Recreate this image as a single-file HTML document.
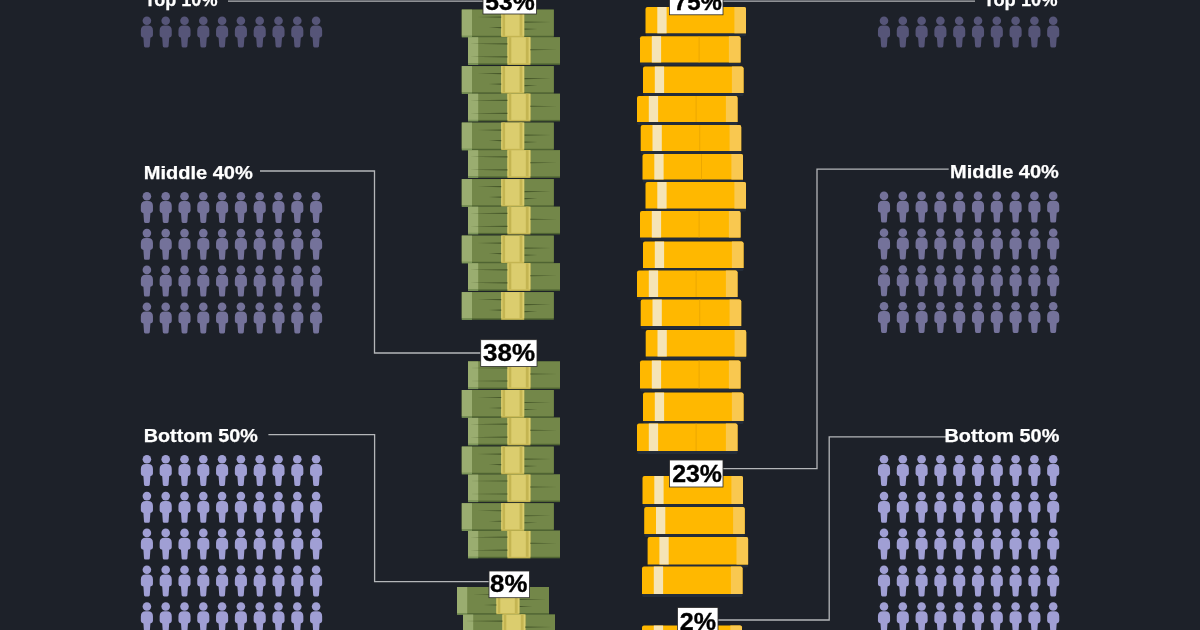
<!DOCTYPE html>
<html><head><meta charset="utf-8"><style>
html,body{margin:0;padding:0;background:#1d2129;}
body{width:1200px;height:630px;overflow:hidden;}
svg{display:block;will-change:transform;}
.lbl{font-family:"Liberation Sans",sans-serif;font-weight:700;font-size:18px;fill:#fff;stroke:#fff;stroke-width:0.25px;}
.pct{font-family:"Liberation Sans",sans-serif;font-weight:700;font-size:24px;fill:#000;stroke:#000;stroke-width:0.35px;}
</style></head><body>
<svg width="1200" height="630" viewBox="0 0 1200 630">
<rect width="1200" height="630" fill="#1d2129"/>
<circle cx="146.90" cy="20.80" r="4.3" fill="#565578"/>
<path d="M140.85,30.60 Q140.85,25.60 145.85,25.60 L147.95,25.60 Q152.95,25.60 152.95,30.60 L152.95,35.30 Q152.95,37.20 150.40,37.70 L149.80,46.10 Q149.80,47.50 148.40,47.50 L145.40,47.50 Q144.00,47.50 144.00,46.10 L143.40,37.70 Q140.85,37.20 140.85,35.30 Z" fill="#565578"/>
<circle cx="165.70" cy="20.80" r="4.3" fill="#565578"/>
<path d="M159.65,30.60 Q159.65,25.60 164.65,25.60 L166.75,25.60 Q171.75,25.60 171.75,30.60 L171.75,35.30 Q171.75,37.20 169.20,37.70 L168.60,46.10 Q168.60,47.50 167.20,47.50 L164.20,47.50 Q162.80,47.50 162.80,46.10 L162.20,37.70 Q159.65,37.20 159.65,35.30 Z" fill="#565578"/>
<circle cx="184.50" cy="20.80" r="4.3" fill="#565578"/>
<path d="M178.45,30.60 Q178.45,25.60 183.45,25.60 L185.55,25.60 Q190.55,25.60 190.55,30.60 L190.55,35.30 Q190.55,37.20 188.00,37.70 L187.40,46.10 Q187.40,47.50 186.00,47.50 L183.00,47.50 Q181.60,47.50 181.60,46.10 L181.00,37.70 Q178.45,37.20 178.45,35.30 Z" fill="#565578"/>
<circle cx="203.30" cy="20.80" r="4.3" fill="#565578"/>
<path d="M197.25,30.60 Q197.25,25.60 202.25,25.60 L204.35,25.60 Q209.35,25.60 209.35,30.60 L209.35,35.30 Q209.35,37.20 206.80,37.70 L206.20,46.10 Q206.20,47.50 204.80,47.50 L201.80,47.50 Q200.40,47.50 200.40,46.10 L199.80,37.70 Q197.25,37.20 197.25,35.30 Z" fill="#565578"/>
<circle cx="222.10" cy="20.80" r="4.3" fill="#565578"/>
<path d="M216.05,30.60 Q216.05,25.60 221.05,25.60 L223.15,25.60 Q228.15,25.60 228.15,30.60 L228.15,35.30 Q228.15,37.20 225.60,37.70 L225.00,46.10 Q225.00,47.50 223.60,47.50 L220.60,47.50 Q219.20,47.50 219.20,46.10 L218.60,37.70 Q216.05,37.20 216.05,35.30 Z" fill="#565578"/>
<circle cx="240.90" cy="20.80" r="4.3" fill="#565578"/>
<path d="M234.85,30.60 Q234.85,25.60 239.85,25.60 L241.95,25.60 Q246.95,25.60 246.95,30.60 L246.95,35.30 Q246.95,37.20 244.40,37.70 L243.80,46.10 Q243.80,47.50 242.40,47.50 L239.40,47.50 Q238.00,47.50 238.00,46.10 L237.40,37.70 Q234.85,37.20 234.85,35.30 Z" fill="#565578"/>
<circle cx="259.70" cy="20.80" r="4.3" fill="#565578"/>
<path d="M253.65,30.60 Q253.65,25.60 258.65,25.60 L260.75,25.60 Q265.75,25.60 265.75,30.60 L265.75,35.30 Q265.75,37.20 263.20,37.70 L262.60,46.10 Q262.60,47.50 261.20,47.50 L258.20,47.50 Q256.80,47.50 256.80,46.10 L256.20,37.70 Q253.65,37.20 253.65,35.30 Z" fill="#565578"/>
<circle cx="278.50" cy="20.80" r="4.3" fill="#565578"/>
<path d="M272.45,30.60 Q272.45,25.60 277.45,25.60 L279.55,25.60 Q284.55,25.60 284.55,30.60 L284.55,35.30 Q284.55,37.20 282.00,37.70 L281.40,46.10 Q281.40,47.50 280.00,47.50 L277.00,47.50 Q275.60,47.50 275.60,46.10 L275.00,37.70 Q272.45,37.20 272.45,35.30 Z" fill="#565578"/>
<circle cx="297.30" cy="20.80" r="4.3" fill="#565578"/>
<path d="M291.25,30.60 Q291.25,25.60 296.25,25.60 L298.35,25.60 Q303.35,25.60 303.35,30.60 L303.35,35.30 Q303.35,37.20 300.80,37.70 L300.20,46.10 Q300.20,47.50 298.80,47.50 L295.80,47.50 Q294.40,47.50 294.40,46.10 L293.80,37.70 Q291.25,37.20 291.25,35.30 Z" fill="#565578"/>
<circle cx="316.10" cy="20.80" r="4.3" fill="#565578"/>
<path d="M310.05,30.60 Q310.05,25.60 315.05,25.60 L317.15,25.60 Q322.15,25.60 322.15,30.60 L322.15,35.30 Q322.15,37.20 319.60,37.70 L319.00,46.10 Q319.00,47.50 317.60,47.50 L314.60,47.50 Q313.20,47.50 313.20,46.10 L312.60,37.70 Q310.05,37.20 310.05,35.30 Z" fill="#565578"/>
<circle cx="146.90" cy="196.30" r="4.3" fill="#74729a"/>
<path d="M140.85,206.10 Q140.85,201.10 145.85,201.10 L147.95,201.10 Q152.95,201.10 152.95,206.10 L152.95,210.80 Q152.95,212.70 150.40,213.20 L149.80,221.60 Q149.80,223.00 148.40,223.00 L145.40,223.00 Q144.00,223.00 144.00,221.60 L143.40,213.20 Q140.85,212.70 140.85,210.80 Z" fill="#74729a"/>
<circle cx="165.70" cy="196.30" r="4.3" fill="#74729a"/>
<path d="M159.65,206.10 Q159.65,201.10 164.65,201.10 L166.75,201.10 Q171.75,201.10 171.75,206.10 L171.75,210.80 Q171.75,212.70 169.20,213.20 L168.60,221.60 Q168.60,223.00 167.20,223.00 L164.20,223.00 Q162.80,223.00 162.80,221.60 L162.20,213.20 Q159.65,212.70 159.65,210.80 Z" fill="#74729a"/>
<circle cx="184.50" cy="196.30" r="4.3" fill="#74729a"/>
<path d="M178.45,206.10 Q178.45,201.10 183.45,201.10 L185.55,201.10 Q190.55,201.10 190.55,206.10 L190.55,210.80 Q190.55,212.70 188.00,213.20 L187.40,221.60 Q187.40,223.00 186.00,223.00 L183.00,223.00 Q181.60,223.00 181.60,221.60 L181.00,213.20 Q178.45,212.70 178.45,210.80 Z" fill="#74729a"/>
<circle cx="203.30" cy="196.30" r="4.3" fill="#74729a"/>
<path d="M197.25,206.10 Q197.25,201.10 202.25,201.10 L204.35,201.10 Q209.35,201.10 209.35,206.10 L209.35,210.80 Q209.35,212.70 206.80,213.20 L206.20,221.60 Q206.20,223.00 204.80,223.00 L201.80,223.00 Q200.40,223.00 200.40,221.60 L199.80,213.20 Q197.25,212.70 197.25,210.80 Z" fill="#74729a"/>
<circle cx="222.10" cy="196.30" r="4.3" fill="#74729a"/>
<path d="M216.05,206.10 Q216.05,201.10 221.05,201.10 L223.15,201.10 Q228.15,201.10 228.15,206.10 L228.15,210.80 Q228.15,212.70 225.60,213.20 L225.00,221.60 Q225.00,223.00 223.60,223.00 L220.60,223.00 Q219.20,223.00 219.20,221.60 L218.60,213.20 Q216.05,212.70 216.05,210.80 Z" fill="#74729a"/>
<circle cx="240.90" cy="196.30" r="4.3" fill="#74729a"/>
<path d="M234.85,206.10 Q234.85,201.10 239.85,201.10 L241.95,201.10 Q246.95,201.10 246.95,206.10 L246.95,210.80 Q246.95,212.70 244.40,213.20 L243.80,221.60 Q243.80,223.00 242.40,223.00 L239.40,223.00 Q238.00,223.00 238.00,221.60 L237.40,213.20 Q234.85,212.70 234.85,210.80 Z" fill="#74729a"/>
<circle cx="259.70" cy="196.30" r="4.3" fill="#74729a"/>
<path d="M253.65,206.10 Q253.65,201.10 258.65,201.10 L260.75,201.10 Q265.75,201.10 265.75,206.10 L265.75,210.80 Q265.75,212.70 263.20,213.20 L262.60,221.60 Q262.60,223.00 261.20,223.00 L258.20,223.00 Q256.80,223.00 256.80,221.60 L256.20,213.20 Q253.65,212.70 253.65,210.80 Z" fill="#74729a"/>
<circle cx="278.50" cy="196.30" r="4.3" fill="#74729a"/>
<path d="M272.45,206.10 Q272.45,201.10 277.45,201.10 L279.55,201.10 Q284.55,201.10 284.55,206.10 L284.55,210.80 Q284.55,212.70 282.00,213.20 L281.40,221.60 Q281.40,223.00 280.00,223.00 L277.00,223.00 Q275.60,223.00 275.60,221.60 L275.00,213.20 Q272.45,212.70 272.45,210.80 Z" fill="#74729a"/>
<circle cx="297.30" cy="196.30" r="4.3" fill="#74729a"/>
<path d="M291.25,206.10 Q291.25,201.10 296.25,201.10 L298.35,201.10 Q303.35,201.10 303.35,206.10 L303.35,210.80 Q303.35,212.70 300.80,213.20 L300.20,221.60 Q300.20,223.00 298.80,223.00 L295.80,223.00 Q294.40,223.00 294.40,221.60 L293.80,213.20 Q291.25,212.70 291.25,210.80 Z" fill="#74729a"/>
<circle cx="316.10" cy="196.30" r="4.3" fill="#74729a"/>
<path d="M310.05,206.10 Q310.05,201.10 315.05,201.10 L317.15,201.10 Q322.15,201.10 322.15,206.10 L322.15,210.80 Q322.15,212.70 319.60,213.20 L319.00,221.60 Q319.00,223.00 317.60,223.00 L314.60,223.00 Q313.20,223.00 313.20,221.60 L312.60,213.20 Q310.05,212.70 310.05,210.80 Z" fill="#74729a"/>
<circle cx="146.90" cy="233.10" r="4.3" fill="#74729a"/>
<path d="M140.85,242.90 Q140.85,237.90 145.85,237.90 L147.95,237.90 Q152.95,237.90 152.95,242.90 L152.95,247.60 Q152.95,249.50 150.40,250.00 L149.80,258.40 Q149.80,259.80 148.40,259.80 L145.40,259.80 Q144.00,259.80 144.00,258.40 L143.40,250.00 Q140.85,249.50 140.85,247.60 Z" fill="#74729a"/>
<circle cx="165.70" cy="233.10" r="4.3" fill="#74729a"/>
<path d="M159.65,242.90 Q159.65,237.90 164.65,237.90 L166.75,237.90 Q171.75,237.90 171.75,242.90 L171.75,247.60 Q171.75,249.50 169.20,250.00 L168.60,258.40 Q168.60,259.80 167.20,259.80 L164.20,259.80 Q162.80,259.80 162.80,258.40 L162.20,250.00 Q159.65,249.50 159.65,247.60 Z" fill="#74729a"/>
<circle cx="184.50" cy="233.10" r="4.3" fill="#74729a"/>
<path d="M178.45,242.90 Q178.45,237.90 183.45,237.90 L185.55,237.90 Q190.55,237.90 190.55,242.90 L190.55,247.60 Q190.55,249.50 188.00,250.00 L187.40,258.40 Q187.40,259.80 186.00,259.80 L183.00,259.80 Q181.60,259.80 181.60,258.40 L181.00,250.00 Q178.45,249.50 178.45,247.60 Z" fill="#74729a"/>
<circle cx="203.30" cy="233.10" r="4.3" fill="#74729a"/>
<path d="M197.25,242.90 Q197.25,237.90 202.25,237.90 L204.35,237.90 Q209.35,237.90 209.35,242.90 L209.35,247.60 Q209.35,249.50 206.80,250.00 L206.20,258.40 Q206.20,259.80 204.80,259.80 L201.80,259.80 Q200.40,259.80 200.40,258.40 L199.80,250.00 Q197.25,249.50 197.25,247.60 Z" fill="#74729a"/>
<circle cx="222.10" cy="233.10" r="4.3" fill="#74729a"/>
<path d="M216.05,242.90 Q216.05,237.90 221.05,237.90 L223.15,237.90 Q228.15,237.90 228.15,242.90 L228.15,247.60 Q228.15,249.50 225.60,250.00 L225.00,258.40 Q225.00,259.80 223.60,259.80 L220.60,259.80 Q219.20,259.80 219.20,258.40 L218.60,250.00 Q216.05,249.50 216.05,247.60 Z" fill="#74729a"/>
<circle cx="240.90" cy="233.10" r="4.3" fill="#74729a"/>
<path d="M234.85,242.90 Q234.85,237.90 239.85,237.90 L241.95,237.90 Q246.95,237.90 246.95,242.90 L246.95,247.60 Q246.95,249.50 244.40,250.00 L243.80,258.40 Q243.80,259.80 242.40,259.80 L239.40,259.80 Q238.00,259.80 238.00,258.40 L237.40,250.00 Q234.85,249.50 234.85,247.60 Z" fill="#74729a"/>
<circle cx="259.70" cy="233.10" r="4.3" fill="#74729a"/>
<path d="M253.65,242.90 Q253.65,237.90 258.65,237.90 L260.75,237.90 Q265.75,237.90 265.75,242.90 L265.75,247.60 Q265.75,249.50 263.20,250.00 L262.60,258.40 Q262.60,259.80 261.20,259.80 L258.20,259.80 Q256.80,259.80 256.80,258.40 L256.20,250.00 Q253.65,249.50 253.65,247.60 Z" fill="#74729a"/>
<circle cx="278.50" cy="233.10" r="4.3" fill="#74729a"/>
<path d="M272.45,242.90 Q272.45,237.90 277.45,237.90 L279.55,237.90 Q284.55,237.90 284.55,242.90 L284.55,247.60 Q284.55,249.50 282.00,250.00 L281.40,258.40 Q281.40,259.80 280.00,259.80 L277.00,259.80 Q275.60,259.80 275.60,258.40 L275.00,250.00 Q272.45,249.50 272.45,247.60 Z" fill="#74729a"/>
<circle cx="297.30" cy="233.10" r="4.3" fill="#74729a"/>
<path d="M291.25,242.90 Q291.25,237.90 296.25,237.90 L298.35,237.90 Q303.35,237.90 303.35,242.90 L303.35,247.60 Q303.35,249.50 300.80,250.00 L300.20,258.40 Q300.20,259.80 298.80,259.80 L295.80,259.80 Q294.40,259.80 294.40,258.40 L293.80,250.00 Q291.25,249.50 291.25,247.60 Z" fill="#74729a"/>
<circle cx="316.10" cy="233.10" r="4.3" fill="#74729a"/>
<path d="M310.05,242.90 Q310.05,237.90 315.05,237.90 L317.15,237.90 Q322.15,237.90 322.15,242.90 L322.15,247.60 Q322.15,249.50 319.60,250.00 L319.00,258.40 Q319.00,259.80 317.60,259.80 L314.60,259.80 Q313.20,259.80 313.20,258.40 L312.60,250.00 Q310.05,249.50 310.05,247.60 Z" fill="#74729a"/>
<circle cx="146.90" cy="269.90" r="4.3" fill="#74729a"/>
<path d="M140.85,279.70 Q140.85,274.70 145.85,274.70 L147.95,274.70 Q152.95,274.70 152.95,279.70 L152.95,284.40 Q152.95,286.30 150.40,286.80 L149.80,295.20 Q149.80,296.60 148.40,296.60 L145.40,296.60 Q144.00,296.60 144.00,295.20 L143.40,286.80 Q140.85,286.30 140.85,284.40 Z" fill="#74729a"/>
<circle cx="165.70" cy="269.90" r="4.3" fill="#74729a"/>
<path d="M159.65,279.70 Q159.65,274.70 164.65,274.70 L166.75,274.70 Q171.75,274.70 171.75,279.70 L171.75,284.40 Q171.75,286.30 169.20,286.80 L168.60,295.20 Q168.60,296.60 167.20,296.60 L164.20,296.60 Q162.80,296.60 162.80,295.20 L162.20,286.80 Q159.65,286.30 159.65,284.40 Z" fill="#74729a"/>
<circle cx="184.50" cy="269.90" r="4.3" fill="#74729a"/>
<path d="M178.45,279.70 Q178.45,274.70 183.45,274.70 L185.55,274.70 Q190.55,274.70 190.55,279.70 L190.55,284.40 Q190.55,286.30 188.00,286.80 L187.40,295.20 Q187.40,296.60 186.00,296.60 L183.00,296.60 Q181.60,296.60 181.60,295.20 L181.00,286.80 Q178.45,286.30 178.45,284.40 Z" fill="#74729a"/>
<circle cx="203.30" cy="269.90" r="4.3" fill="#74729a"/>
<path d="M197.25,279.70 Q197.25,274.70 202.25,274.70 L204.35,274.70 Q209.35,274.70 209.35,279.70 L209.35,284.40 Q209.35,286.30 206.80,286.80 L206.20,295.20 Q206.20,296.60 204.80,296.60 L201.80,296.60 Q200.40,296.60 200.40,295.20 L199.80,286.80 Q197.25,286.30 197.25,284.40 Z" fill="#74729a"/>
<circle cx="222.10" cy="269.90" r="4.3" fill="#74729a"/>
<path d="M216.05,279.70 Q216.05,274.70 221.05,274.70 L223.15,274.70 Q228.15,274.70 228.15,279.70 L228.15,284.40 Q228.15,286.30 225.60,286.80 L225.00,295.20 Q225.00,296.60 223.60,296.60 L220.60,296.60 Q219.20,296.60 219.20,295.20 L218.60,286.80 Q216.05,286.30 216.05,284.40 Z" fill="#74729a"/>
<circle cx="240.90" cy="269.90" r="4.3" fill="#74729a"/>
<path d="M234.85,279.70 Q234.85,274.70 239.85,274.70 L241.95,274.70 Q246.95,274.70 246.95,279.70 L246.95,284.40 Q246.95,286.30 244.40,286.80 L243.80,295.20 Q243.80,296.60 242.40,296.60 L239.40,296.60 Q238.00,296.60 238.00,295.20 L237.40,286.80 Q234.85,286.30 234.85,284.40 Z" fill="#74729a"/>
<circle cx="259.70" cy="269.90" r="4.3" fill="#74729a"/>
<path d="M253.65,279.70 Q253.65,274.70 258.65,274.70 L260.75,274.70 Q265.75,274.70 265.75,279.70 L265.75,284.40 Q265.75,286.30 263.20,286.80 L262.60,295.20 Q262.60,296.60 261.20,296.60 L258.20,296.60 Q256.80,296.60 256.80,295.20 L256.20,286.80 Q253.65,286.30 253.65,284.40 Z" fill="#74729a"/>
<circle cx="278.50" cy="269.90" r="4.3" fill="#74729a"/>
<path d="M272.45,279.70 Q272.45,274.70 277.45,274.70 L279.55,274.70 Q284.55,274.70 284.55,279.70 L284.55,284.40 Q284.55,286.30 282.00,286.80 L281.40,295.20 Q281.40,296.60 280.00,296.60 L277.00,296.60 Q275.60,296.60 275.60,295.20 L275.00,286.80 Q272.45,286.30 272.45,284.40 Z" fill="#74729a"/>
<circle cx="297.30" cy="269.90" r="4.3" fill="#74729a"/>
<path d="M291.25,279.70 Q291.25,274.70 296.25,274.70 L298.35,274.70 Q303.35,274.70 303.35,279.70 L303.35,284.40 Q303.35,286.30 300.80,286.80 L300.20,295.20 Q300.20,296.60 298.80,296.60 L295.80,296.60 Q294.40,296.60 294.40,295.20 L293.80,286.80 Q291.25,286.30 291.25,284.40 Z" fill="#74729a"/>
<circle cx="316.10" cy="269.90" r="4.3" fill="#74729a"/>
<path d="M310.05,279.70 Q310.05,274.70 315.05,274.70 L317.15,274.70 Q322.15,274.70 322.15,279.70 L322.15,284.40 Q322.15,286.30 319.60,286.80 L319.00,295.20 Q319.00,296.60 317.60,296.60 L314.60,296.60 Q313.20,296.60 313.20,295.20 L312.60,286.80 Q310.05,286.30 310.05,284.40 Z" fill="#74729a"/>
<circle cx="146.90" cy="306.70" r="4.3" fill="#74729a"/>
<path d="M140.85,316.50 Q140.85,311.50 145.85,311.50 L147.95,311.50 Q152.95,311.50 152.95,316.50 L152.95,321.20 Q152.95,323.10 150.40,323.60 L149.80,332.00 Q149.80,333.40 148.40,333.40 L145.40,333.40 Q144.00,333.40 144.00,332.00 L143.40,323.60 Q140.85,323.10 140.85,321.20 Z" fill="#74729a"/>
<circle cx="165.70" cy="306.70" r="4.3" fill="#74729a"/>
<path d="M159.65,316.50 Q159.65,311.50 164.65,311.50 L166.75,311.50 Q171.75,311.50 171.75,316.50 L171.75,321.20 Q171.75,323.10 169.20,323.60 L168.60,332.00 Q168.60,333.40 167.20,333.40 L164.20,333.40 Q162.80,333.40 162.80,332.00 L162.20,323.60 Q159.65,323.10 159.65,321.20 Z" fill="#74729a"/>
<circle cx="184.50" cy="306.70" r="4.3" fill="#74729a"/>
<path d="M178.45,316.50 Q178.45,311.50 183.45,311.50 L185.55,311.50 Q190.55,311.50 190.55,316.50 L190.55,321.20 Q190.55,323.10 188.00,323.60 L187.40,332.00 Q187.40,333.40 186.00,333.40 L183.00,333.40 Q181.60,333.40 181.60,332.00 L181.00,323.60 Q178.45,323.10 178.45,321.20 Z" fill="#74729a"/>
<circle cx="203.30" cy="306.70" r="4.3" fill="#74729a"/>
<path d="M197.25,316.50 Q197.25,311.50 202.25,311.50 L204.35,311.50 Q209.35,311.50 209.35,316.50 L209.35,321.20 Q209.35,323.10 206.80,323.60 L206.20,332.00 Q206.20,333.40 204.80,333.40 L201.80,333.40 Q200.40,333.40 200.40,332.00 L199.80,323.60 Q197.25,323.10 197.25,321.20 Z" fill="#74729a"/>
<circle cx="222.10" cy="306.70" r="4.3" fill="#74729a"/>
<path d="M216.05,316.50 Q216.05,311.50 221.05,311.50 L223.15,311.50 Q228.15,311.50 228.15,316.50 L228.15,321.20 Q228.15,323.10 225.60,323.60 L225.00,332.00 Q225.00,333.40 223.60,333.40 L220.60,333.40 Q219.20,333.40 219.20,332.00 L218.60,323.60 Q216.05,323.10 216.05,321.20 Z" fill="#74729a"/>
<circle cx="240.90" cy="306.70" r="4.3" fill="#74729a"/>
<path d="M234.85,316.50 Q234.85,311.50 239.85,311.50 L241.95,311.50 Q246.95,311.50 246.95,316.50 L246.95,321.20 Q246.95,323.10 244.40,323.60 L243.80,332.00 Q243.80,333.40 242.40,333.40 L239.40,333.40 Q238.00,333.40 238.00,332.00 L237.40,323.60 Q234.85,323.10 234.85,321.20 Z" fill="#74729a"/>
<circle cx="259.70" cy="306.70" r="4.3" fill="#74729a"/>
<path d="M253.65,316.50 Q253.65,311.50 258.65,311.50 L260.75,311.50 Q265.75,311.50 265.75,316.50 L265.75,321.20 Q265.75,323.10 263.20,323.60 L262.60,332.00 Q262.60,333.40 261.20,333.40 L258.20,333.40 Q256.80,333.40 256.80,332.00 L256.20,323.60 Q253.65,323.10 253.65,321.20 Z" fill="#74729a"/>
<circle cx="278.50" cy="306.70" r="4.3" fill="#74729a"/>
<path d="M272.45,316.50 Q272.45,311.50 277.45,311.50 L279.55,311.50 Q284.55,311.50 284.55,316.50 L284.55,321.20 Q284.55,323.10 282.00,323.60 L281.40,332.00 Q281.40,333.40 280.00,333.40 L277.00,333.40 Q275.60,333.40 275.60,332.00 L275.00,323.60 Q272.45,323.10 272.45,321.20 Z" fill="#74729a"/>
<circle cx="297.30" cy="306.70" r="4.3" fill="#74729a"/>
<path d="M291.25,316.50 Q291.25,311.50 296.25,311.50 L298.35,311.50 Q303.35,311.50 303.35,316.50 L303.35,321.20 Q303.35,323.10 300.80,323.60 L300.20,332.00 Q300.20,333.40 298.80,333.40 L295.80,333.40 Q294.40,333.40 294.40,332.00 L293.80,323.60 Q291.25,323.10 291.25,321.20 Z" fill="#74729a"/>
<circle cx="316.10" cy="306.70" r="4.3" fill="#74729a"/>
<path d="M310.05,316.50 Q310.05,311.50 315.05,311.50 L317.15,311.50 Q322.15,311.50 322.15,316.50 L322.15,321.20 Q322.15,323.10 319.60,323.60 L319.00,332.00 Q319.00,333.40 317.60,333.40 L314.60,333.40 Q313.20,333.40 313.20,332.00 L312.60,323.60 Q310.05,323.10 310.05,321.20 Z" fill="#74729a"/>
<circle cx="146.90" cy="459.30" r="4.3" fill="#a09fd4"/>
<path d="M140.85,469.10 Q140.85,464.10 145.85,464.10 L147.95,464.10 Q152.95,464.10 152.95,469.10 L152.95,473.80 Q152.95,475.70 150.40,476.20 L149.80,484.60 Q149.80,486.00 148.40,486.00 L145.40,486.00 Q144.00,486.00 144.00,484.60 L143.40,476.20 Q140.85,475.70 140.85,473.80 Z" fill="#a09fd4"/>
<circle cx="165.70" cy="459.30" r="4.3" fill="#a09fd4"/>
<path d="M159.65,469.10 Q159.65,464.10 164.65,464.10 L166.75,464.10 Q171.75,464.10 171.75,469.10 L171.75,473.80 Q171.75,475.70 169.20,476.20 L168.60,484.60 Q168.60,486.00 167.20,486.00 L164.20,486.00 Q162.80,486.00 162.80,484.60 L162.20,476.20 Q159.65,475.70 159.65,473.80 Z" fill="#a09fd4"/>
<circle cx="184.50" cy="459.30" r="4.3" fill="#a09fd4"/>
<path d="M178.45,469.10 Q178.45,464.10 183.45,464.10 L185.55,464.10 Q190.55,464.10 190.55,469.10 L190.55,473.80 Q190.55,475.70 188.00,476.20 L187.40,484.60 Q187.40,486.00 186.00,486.00 L183.00,486.00 Q181.60,486.00 181.60,484.60 L181.00,476.20 Q178.45,475.70 178.45,473.80 Z" fill="#a09fd4"/>
<circle cx="203.30" cy="459.30" r="4.3" fill="#a09fd4"/>
<path d="M197.25,469.10 Q197.25,464.10 202.25,464.10 L204.35,464.10 Q209.35,464.10 209.35,469.10 L209.35,473.80 Q209.35,475.70 206.80,476.20 L206.20,484.60 Q206.20,486.00 204.80,486.00 L201.80,486.00 Q200.40,486.00 200.40,484.60 L199.80,476.20 Q197.25,475.70 197.25,473.80 Z" fill="#a09fd4"/>
<circle cx="222.10" cy="459.30" r="4.3" fill="#a09fd4"/>
<path d="M216.05,469.10 Q216.05,464.10 221.05,464.10 L223.15,464.10 Q228.15,464.10 228.15,469.10 L228.15,473.80 Q228.15,475.70 225.60,476.20 L225.00,484.60 Q225.00,486.00 223.60,486.00 L220.60,486.00 Q219.20,486.00 219.20,484.60 L218.60,476.20 Q216.05,475.70 216.05,473.80 Z" fill="#a09fd4"/>
<circle cx="240.90" cy="459.30" r="4.3" fill="#a09fd4"/>
<path d="M234.85,469.10 Q234.85,464.10 239.85,464.10 L241.95,464.10 Q246.95,464.10 246.95,469.10 L246.95,473.80 Q246.95,475.70 244.40,476.20 L243.80,484.60 Q243.80,486.00 242.40,486.00 L239.40,486.00 Q238.00,486.00 238.00,484.60 L237.40,476.20 Q234.85,475.70 234.85,473.80 Z" fill="#a09fd4"/>
<circle cx="259.70" cy="459.30" r="4.3" fill="#a09fd4"/>
<path d="M253.65,469.10 Q253.65,464.10 258.65,464.10 L260.75,464.10 Q265.75,464.10 265.75,469.10 L265.75,473.80 Q265.75,475.70 263.20,476.20 L262.60,484.60 Q262.60,486.00 261.20,486.00 L258.20,486.00 Q256.80,486.00 256.80,484.60 L256.20,476.20 Q253.65,475.70 253.65,473.80 Z" fill="#a09fd4"/>
<circle cx="278.50" cy="459.30" r="4.3" fill="#a09fd4"/>
<path d="M272.45,469.10 Q272.45,464.10 277.45,464.10 L279.55,464.10 Q284.55,464.10 284.55,469.10 L284.55,473.80 Q284.55,475.70 282.00,476.20 L281.40,484.60 Q281.40,486.00 280.00,486.00 L277.00,486.00 Q275.60,486.00 275.60,484.60 L275.00,476.20 Q272.45,475.70 272.45,473.80 Z" fill="#a09fd4"/>
<circle cx="297.30" cy="459.30" r="4.3" fill="#a09fd4"/>
<path d="M291.25,469.10 Q291.25,464.10 296.25,464.10 L298.35,464.10 Q303.35,464.10 303.35,469.10 L303.35,473.80 Q303.35,475.70 300.80,476.20 L300.20,484.60 Q300.20,486.00 298.80,486.00 L295.80,486.00 Q294.40,486.00 294.40,484.60 L293.80,476.20 Q291.25,475.70 291.25,473.80 Z" fill="#a09fd4"/>
<circle cx="316.10" cy="459.30" r="4.3" fill="#a09fd4"/>
<path d="M310.05,469.10 Q310.05,464.10 315.05,464.10 L317.15,464.10 Q322.15,464.10 322.15,469.10 L322.15,473.80 Q322.15,475.70 319.60,476.20 L319.00,484.60 Q319.00,486.00 317.60,486.00 L314.60,486.00 Q313.20,486.00 313.20,484.60 L312.60,476.20 Q310.05,475.70 310.05,473.80 Z" fill="#a09fd4"/>
<circle cx="146.90" cy="496.10" r="4.3" fill="#a09fd4"/>
<path d="M140.85,505.90 Q140.85,500.90 145.85,500.90 L147.95,500.90 Q152.95,500.90 152.95,505.90 L152.95,510.60 Q152.95,512.50 150.40,513.00 L149.80,521.40 Q149.80,522.80 148.40,522.80 L145.40,522.80 Q144.00,522.80 144.00,521.40 L143.40,513.00 Q140.85,512.50 140.85,510.60 Z" fill="#a09fd4"/>
<circle cx="165.70" cy="496.10" r="4.3" fill="#a09fd4"/>
<path d="M159.65,505.90 Q159.65,500.90 164.65,500.90 L166.75,500.90 Q171.75,500.90 171.75,505.90 L171.75,510.60 Q171.75,512.50 169.20,513.00 L168.60,521.40 Q168.60,522.80 167.20,522.80 L164.20,522.80 Q162.80,522.80 162.80,521.40 L162.20,513.00 Q159.65,512.50 159.65,510.60 Z" fill="#a09fd4"/>
<circle cx="184.50" cy="496.10" r="4.3" fill="#a09fd4"/>
<path d="M178.45,505.90 Q178.45,500.90 183.45,500.90 L185.55,500.90 Q190.55,500.90 190.55,505.90 L190.55,510.60 Q190.55,512.50 188.00,513.00 L187.40,521.40 Q187.40,522.80 186.00,522.80 L183.00,522.80 Q181.60,522.80 181.60,521.40 L181.00,513.00 Q178.45,512.50 178.45,510.60 Z" fill="#a09fd4"/>
<circle cx="203.30" cy="496.10" r="4.3" fill="#a09fd4"/>
<path d="M197.25,505.90 Q197.25,500.90 202.25,500.90 L204.35,500.90 Q209.35,500.90 209.35,505.90 L209.35,510.60 Q209.35,512.50 206.80,513.00 L206.20,521.40 Q206.20,522.80 204.80,522.80 L201.80,522.80 Q200.40,522.80 200.40,521.40 L199.80,513.00 Q197.25,512.50 197.25,510.60 Z" fill="#a09fd4"/>
<circle cx="222.10" cy="496.10" r="4.3" fill="#a09fd4"/>
<path d="M216.05,505.90 Q216.05,500.90 221.05,500.90 L223.15,500.90 Q228.15,500.90 228.15,505.90 L228.15,510.60 Q228.15,512.50 225.60,513.00 L225.00,521.40 Q225.00,522.80 223.60,522.80 L220.60,522.80 Q219.20,522.80 219.20,521.40 L218.60,513.00 Q216.05,512.50 216.05,510.60 Z" fill="#a09fd4"/>
<circle cx="240.90" cy="496.10" r="4.3" fill="#a09fd4"/>
<path d="M234.85,505.90 Q234.85,500.90 239.85,500.90 L241.95,500.90 Q246.95,500.90 246.95,505.90 L246.95,510.60 Q246.95,512.50 244.40,513.00 L243.80,521.40 Q243.80,522.80 242.40,522.80 L239.40,522.80 Q238.00,522.80 238.00,521.40 L237.40,513.00 Q234.85,512.50 234.85,510.60 Z" fill="#a09fd4"/>
<circle cx="259.70" cy="496.10" r="4.3" fill="#a09fd4"/>
<path d="M253.65,505.90 Q253.65,500.90 258.65,500.90 L260.75,500.90 Q265.75,500.90 265.75,505.90 L265.75,510.60 Q265.75,512.50 263.20,513.00 L262.60,521.40 Q262.60,522.80 261.20,522.80 L258.20,522.80 Q256.80,522.80 256.80,521.40 L256.20,513.00 Q253.65,512.50 253.65,510.60 Z" fill="#a09fd4"/>
<circle cx="278.50" cy="496.10" r="4.3" fill="#a09fd4"/>
<path d="M272.45,505.90 Q272.45,500.90 277.45,500.90 L279.55,500.90 Q284.55,500.90 284.55,505.90 L284.55,510.60 Q284.55,512.50 282.00,513.00 L281.40,521.40 Q281.40,522.80 280.00,522.80 L277.00,522.80 Q275.60,522.80 275.60,521.40 L275.00,513.00 Q272.45,512.50 272.45,510.60 Z" fill="#a09fd4"/>
<circle cx="297.30" cy="496.10" r="4.3" fill="#a09fd4"/>
<path d="M291.25,505.90 Q291.25,500.90 296.25,500.90 L298.35,500.90 Q303.35,500.90 303.35,505.90 L303.35,510.60 Q303.35,512.50 300.80,513.00 L300.20,521.40 Q300.20,522.80 298.80,522.80 L295.80,522.80 Q294.40,522.80 294.40,521.40 L293.80,513.00 Q291.25,512.50 291.25,510.60 Z" fill="#a09fd4"/>
<circle cx="316.10" cy="496.10" r="4.3" fill="#a09fd4"/>
<path d="M310.05,505.90 Q310.05,500.90 315.05,500.90 L317.15,500.90 Q322.15,500.90 322.15,505.90 L322.15,510.60 Q322.15,512.50 319.60,513.00 L319.00,521.40 Q319.00,522.80 317.60,522.80 L314.60,522.80 Q313.20,522.80 313.20,521.40 L312.60,513.00 Q310.05,512.50 310.05,510.60 Z" fill="#a09fd4"/>
<circle cx="146.90" cy="532.90" r="4.3" fill="#a09fd4"/>
<path d="M140.85,542.70 Q140.85,537.70 145.85,537.70 L147.95,537.70 Q152.95,537.70 152.95,542.70 L152.95,547.40 Q152.95,549.30 150.40,549.80 L149.80,558.20 Q149.80,559.60 148.40,559.60 L145.40,559.60 Q144.00,559.60 144.00,558.20 L143.40,549.80 Q140.85,549.30 140.85,547.40 Z" fill="#a09fd4"/>
<circle cx="165.70" cy="532.90" r="4.3" fill="#a09fd4"/>
<path d="M159.65,542.70 Q159.65,537.70 164.65,537.70 L166.75,537.70 Q171.75,537.70 171.75,542.70 L171.75,547.40 Q171.75,549.30 169.20,549.80 L168.60,558.20 Q168.60,559.60 167.20,559.60 L164.20,559.60 Q162.80,559.60 162.80,558.20 L162.20,549.80 Q159.65,549.30 159.65,547.40 Z" fill="#a09fd4"/>
<circle cx="184.50" cy="532.90" r="4.3" fill="#a09fd4"/>
<path d="M178.45,542.70 Q178.45,537.70 183.45,537.70 L185.55,537.70 Q190.55,537.70 190.55,542.70 L190.55,547.40 Q190.55,549.30 188.00,549.80 L187.40,558.20 Q187.40,559.60 186.00,559.60 L183.00,559.60 Q181.60,559.60 181.60,558.20 L181.00,549.80 Q178.45,549.30 178.45,547.40 Z" fill="#a09fd4"/>
<circle cx="203.30" cy="532.90" r="4.3" fill="#a09fd4"/>
<path d="M197.25,542.70 Q197.25,537.70 202.25,537.70 L204.35,537.70 Q209.35,537.70 209.35,542.70 L209.35,547.40 Q209.35,549.30 206.80,549.80 L206.20,558.20 Q206.20,559.60 204.80,559.60 L201.80,559.60 Q200.40,559.60 200.40,558.20 L199.80,549.80 Q197.25,549.30 197.25,547.40 Z" fill="#a09fd4"/>
<circle cx="222.10" cy="532.90" r="4.3" fill="#a09fd4"/>
<path d="M216.05,542.70 Q216.05,537.70 221.05,537.70 L223.15,537.70 Q228.15,537.70 228.15,542.70 L228.15,547.40 Q228.15,549.30 225.60,549.80 L225.00,558.20 Q225.00,559.60 223.60,559.60 L220.60,559.60 Q219.20,559.60 219.20,558.20 L218.60,549.80 Q216.05,549.30 216.05,547.40 Z" fill="#a09fd4"/>
<circle cx="240.90" cy="532.90" r="4.3" fill="#a09fd4"/>
<path d="M234.85,542.70 Q234.85,537.70 239.85,537.70 L241.95,537.70 Q246.95,537.70 246.95,542.70 L246.95,547.40 Q246.95,549.30 244.40,549.80 L243.80,558.20 Q243.80,559.60 242.40,559.60 L239.40,559.60 Q238.00,559.60 238.00,558.20 L237.40,549.80 Q234.85,549.30 234.85,547.40 Z" fill="#a09fd4"/>
<circle cx="259.70" cy="532.90" r="4.3" fill="#a09fd4"/>
<path d="M253.65,542.70 Q253.65,537.70 258.65,537.70 L260.75,537.70 Q265.75,537.70 265.75,542.70 L265.75,547.40 Q265.75,549.30 263.20,549.80 L262.60,558.20 Q262.60,559.60 261.20,559.60 L258.20,559.60 Q256.80,559.60 256.80,558.20 L256.20,549.80 Q253.65,549.30 253.65,547.40 Z" fill="#a09fd4"/>
<circle cx="278.50" cy="532.90" r="4.3" fill="#a09fd4"/>
<path d="M272.45,542.70 Q272.45,537.70 277.45,537.70 L279.55,537.70 Q284.55,537.70 284.55,542.70 L284.55,547.40 Q284.55,549.30 282.00,549.80 L281.40,558.20 Q281.40,559.60 280.00,559.60 L277.00,559.60 Q275.60,559.60 275.60,558.20 L275.00,549.80 Q272.45,549.30 272.45,547.40 Z" fill="#a09fd4"/>
<circle cx="297.30" cy="532.90" r="4.3" fill="#a09fd4"/>
<path d="M291.25,542.70 Q291.25,537.70 296.25,537.70 L298.35,537.70 Q303.35,537.70 303.35,542.70 L303.35,547.40 Q303.35,549.30 300.80,549.80 L300.20,558.20 Q300.20,559.60 298.80,559.60 L295.80,559.60 Q294.40,559.60 294.40,558.20 L293.80,549.80 Q291.25,549.30 291.25,547.40 Z" fill="#a09fd4"/>
<circle cx="316.10" cy="532.90" r="4.3" fill="#a09fd4"/>
<path d="M310.05,542.70 Q310.05,537.70 315.05,537.70 L317.15,537.70 Q322.15,537.70 322.15,542.70 L322.15,547.40 Q322.15,549.30 319.60,549.80 L319.00,558.20 Q319.00,559.60 317.60,559.60 L314.60,559.60 Q313.20,559.60 313.20,558.20 L312.60,549.80 Q310.05,549.30 310.05,547.40 Z" fill="#a09fd4"/>
<circle cx="146.90" cy="569.70" r="4.3" fill="#a09fd4"/>
<path d="M140.85,579.50 Q140.85,574.50 145.85,574.50 L147.95,574.50 Q152.95,574.50 152.95,579.50 L152.95,584.20 Q152.95,586.10 150.40,586.60 L149.80,595.00 Q149.80,596.40 148.40,596.40 L145.40,596.40 Q144.00,596.40 144.00,595.00 L143.40,586.60 Q140.85,586.10 140.85,584.20 Z" fill="#a09fd4"/>
<circle cx="165.70" cy="569.70" r="4.3" fill="#a09fd4"/>
<path d="M159.65,579.50 Q159.65,574.50 164.65,574.50 L166.75,574.50 Q171.75,574.50 171.75,579.50 L171.75,584.20 Q171.75,586.10 169.20,586.60 L168.60,595.00 Q168.60,596.40 167.20,596.40 L164.20,596.40 Q162.80,596.40 162.80,595.00 L162.20,586.60 Q159.65,586.10 159.65,584.20 Z" fill="#a09fd4"/>
<circle cx="184.50" cy="569.70" r="4.3" fill="#a09fd4"/>
<path d="M178.45,579.50 Q178.45,574.50 183.45,574.50 L185.55,574.50 Q190.55,574.50 190.55,579.50 L190.55,584.20 Q190.55,586.10 188.00,586.60 L187.40,595.00 Q187.40,596.40 186.00,596.40 L183.00,596.40 Q181.60,596.40 181.60,595.00 L181.00,586.60 Q178.45,586.10 178.45,584.20 Z" fill="#a09fd4"/>
<circle cx="203.30" cy="569.70" r="4.3" fill="#a09fd4"/>
<path d="M197.25,579.50 Q197.25,574.50 202.25,574.50 L204.35,574.50 Q209.35,574.50 209.35,579.50 L209.35,584.20 Q209.35,586.10 206.80,586.60 L206.20,595.00 Q206.20,596.40 204.80,596.40 L201.80,596.40 Q200.40,596.40 200.40,595.00 L199.80,586.60 Q197.25,586.10 197.25,584.20 Z" fill="#a09fd4"/>
<circle cx="222.10" cy="569.70" r="4.3" fill="#a09fd4"/>
<path d="M216.05,579.50 Q216.05,574.50 221.05,574.50 L223.15,574.50 Q228.15,574.50 228.15,579.50 L228.15,584.20 Q228.15,586.10 225.60,586.60 L225.00,595.00 Q225.00,596.40 223.60,596.40 L220.60,596.40 Q219.20,596.40 219.20,595.00 L218.60,586.60 Q216.05,586.10 216.05,584.20 Z" fill="#a09fd4"/>
<circle cx="240.90" cy="569.70" r="4.3" fill="#a09fd4"/>
<path d="M234.85,579.50 Q234.85,574.50 239.85,574.50 L241.95,574.50 Q246.95,574.50 246.95,579.50 L246.95,584.20 Q246.95,586.10 244.40,586.60 L243.80,595.00 Q243.80,596.40 242.40,596.40 L239.40,596.40 Q238.00,596.40 238.00,595.00 L237.40,586.60 Q234.85,586.10 234.85,584.20 Z" fill="#a09fd4"/>
<circle cx="259.70" cy="569.70" r="4.3" fill="#a09fd4"/>
<path d="M253.65,579.50 Q253.65,574.50 258.65,574.50 L260.75,574.50 Q265.75,574.50 265.75,579.50 L265.75,584.20 Q265.75,586.10 263.20,586.60 L262.60,595.00 Q262.60,596.40 261.20,596.40 L258.20,596.40 Q256.80,596.40 256.80,595.00 L256.20,586.60 Q253.65,586.10 253.65,584.20 Z" fill="#a09fd4"/>
<circle cx="278.50" cy="569.70" r="4.3" fill="#a09fd4"/>
<path d="M272.45,579.50 Q272.45,574.50 277.45,574.50 L279.55,574.50 Q284.55,574.50 284.55,579.50 L284.55,584.20 Q284.55,586.10 282.00,586.60 L281.40,595.00 Q281.40,596.40 280.00,596.40 L277.00,596.40 Q275.60,596.40 275.60,595.00 L275.00,586.60 Q272.45,586.10 272.45,584.20 Z" fill="#a09fd4"/>
<circle cx="297.30" cy="569.70" r="4.3" fill="#a09fd4"/>
<path d="M291.25,579.50 Q291.25,574.50 296.25,574.50 L298.35,574.50 Q303.35,574.50 303.35,579.50 L303.35,584.20 Q303.35,586.10 300.80,586.60 L300.20,595.00 Q300.20,596.40 298.80,596.40 L295.80,596.40 Q294.40,596.40 294.40,595.00 L293.80,586.60 Q291.25,586.10 291.25,584.20 Z" fill="#a09fd4"/>
<circle cx="316.10" cy="569.70" r="4.3" fill="#a09fd4"/>
<path d="M310.05,579.50 Q310.05,574.50 315.05,574.50 L317.15,574.50 Q322.15,574.50 322.15,579.50 L322.15,584.20 Q322.15,586.10 319.60,586.60 L319.00,595.00 Q319.00,596.40 317.60,596.40 L314.60,596.40 Q313.20,596.40 313.20,595.00 L312.60,586.60 Q310.05,586.10 310.05,584.20 Z" fill="#a09fd4"/>
<circle cx="146.90" cy="606.50" r="4.3" fill="#a09fd4"/>
<path d="M140.85,616.30 Q140.85,611.30 145.85,611.30 L147.95,611.30 Q152.95,611.30 152.95,616.30 L152.95,621.00 Q152.95,622.90 150.40,623.40 L149.80,631.80 Q149.80,633.20 148.40,633.20 L145.40,633.20 Q144.00,633.20 144.00,631.80 L143.40,623.40 Q140.85,622.90 140.85,621.00 Z" fill="#a09fd4"/>
<circle cx="165.70" cy="606.50" r="4.3" fill="#a09fd4"/>
<path d="M159.65,616.30 Q159.65,611.30 164.65,611.30 L166.75,611.30 Q171.75,611.30 171.75,616.30 L171.75,621.00 Q171.75,622.90 169.20,623.40 L168.60,631.80 Q168.60,633.20 167.20,633.20 L164.20,633.20 Q162.80,633.20 162.80,631.80 L162.20,623.40 Q159.65,622.90 159.65,621.00 Z" fill="#a09fd4"/>
<circle cx="184.50" cy="606.50" r="4.3" fill="#a09fd4"/>
<path d="M178.45,616.30 Q178.45,611.30 183.45,611.30 L185.55,611.30 Q190.55,611.30 190.55,616.30 L190.55,621.00 Q190.55,622.90 188.00,623.40 L187.40,631.80 Q187.40,633.20 186.00,633.20 L183.00,633.20 Q181.60,633.20 181.60,631.80 L181.00,623.40 Q178.45,622.90 178.45,621.00 Z" fill="#a09fd4"/>
<circle cx="203.30" cy="606.50" r="4.3" fill="#a09fd4"/>
<path d="M197.25,616.30 Q197.25,611.30 202.25,611.30 L204.35,611.30 Q209.35,611.30 209.35,616.30 L209.35,621.00 Q209.35,622.90 206.80,623.40 L206.20,631.80 Q206.20,633.20 204.80,633.20 L201.80,633.20 Q200.40,633.20 200.40,631.80 L199.80,623.40 Q197.25,622.90 197.25,621.00 Z" fill="#a09fd4"/>
<circle cx="222.10" cy="606.50" r="4.3" fill="#a09fd4"/>
<path d="M216.05,616.30 Q216.05,611.30 221.05,611.30 L223.15,611.30 Q228.15,611.30 228.15,616.30 L228.15,621.00 Q228.15,622.90 225.60,623.40 L225.00,631.80 Q225.00,633.20 223.60,633.20 L220.60,633.20 Q219.20,633.20 219.20,631.80 L218.60,623.40 Q216.05,622.90 216.05,621.00 Z" fill="#a09fd4"/>
<circle cx="240.90" cy="606.50" r="4.3" fill="#a09fd4"/>
<path d="M234.85,616.30 Q234.85,611.30 239.85,611.30 L241.95,611.30 Q246.95,611.30 246.95,616.30 L246.95,621.00 Q246.95,622.90 244.40,623.40 L243.80,631.80 Q243.80,633.20 242.40,633.20 L239.40,633.20 Q238.00,633.20 238.00,631.80 L237.40,623.40 Q234.85,622.90 234.85,621.00 Z" fill="#a09fd4"/>
<circle cx="259.70" cy="606.50" r="4.3" fill="#a09fd4"/>
<path d="M253.65,616.30 Q253.65,611.30 258.65,611.30 L260.75,611.30 Q265.75,611.30 265.75,616.30 L265.75,621.00 Q265.75,622.90 263.20,623.40 L262.60,631.80 Q262.60,633.20 261.20,633.20 L258.20,633.20 Q256.80,633.20 256.80,631.80 L256.20,623.40 Q253.65,622.90 253.65,621.00 Z" fill="#a09fd4"/>
<circle cx="278.50" cy="606.50" r="4.3" fill="#a09fd4"/>
<path d="M272.45,616.30 Q272.45,611.30 277.45,611.30 L279.55,611.30 Q284.55,611.30 284.55,616.30 L284.55,621.00 Q284.55,622.90 282.00,623.40 L281.40,631.80 Q281.40,633.20 280.00,633.20 L277.00,633.20 Q275.60,633.20 275.60,631.80 L275.00,623.40 Q272.45,622.90 272.45,621.00 Z" fill="#a09fd4"/>
<circle cx="297.30" cy="606.50" r="4.3" fill="#a09fd4"/>
<path d="M291.25,616.30 Q291.25,611.30 296.25,611.30 L298.35,611.30 Q303.35,611.30 303.35,616.30 L303.35,621.00 Q303.35,622.90 300.80,623.40 L300.20,631.80 Q300.20,633.20 298.80,633.20 L295.80,633.20 Q294.40,633.20 294.40,631.80 L293.80,623.40 Q291.25,622.90 291.25,621.00 Z" fill="#a09fd4"/>
<circle cx="316.10" cy="606.50" r="4.3" fill="#a09fd4"/>
<path d="M310.05,616.30 Q310.05,611.30 315.05,611.30 L317.15,611.30 Q322.15,611.30 322.15,616.30 L322.15,621.00 Q322.15,622.90 319.60,623.40 L319.00,631.80 Q319.00,633.20 317.60,633.20 L314.60,633.20 Q313.20,633.20 313.20,631.80 L312.60,623.40 Q310.05,622.90 310.05,621.00 Z" fill="#a09fd4"/>
<circle cx="884.00" cy="20.80" r="4.3" fill="#565578"/>
<path d="M877.95,30.60 Q877.95,25.60 882.95,25.60 L885.05,25.60 Q890.05,25.60 890.05,30.60 L890.05,35.30 Q890.05,37.20 887.50,37.70 L886.90,46.10 Q886.90,47.50 885.50,47.50 L882.50,47.50 Q881.10,47.50 881.10,46.10 L880.50,37.70 Q877.95,37.20 877.95,35.30 Z" fill="#565578"/>
<circle cx="902.80" cy="20.80" r="4.3" fill="#565578"/>
<path d="M896.75,30.60 Q896.75,25.60 901.75,25.60 L903.85,25.60 Q908.85,25.60 908.85,30.60 L908.85,35.30 Q908.85,37.20 906.30,37.70 L905.70,46.10 Q905.70,47.50 904.30,47.50 L901.30,47.50 Q899.90,47.50 899.90,46.10 L899.30,37.70 Q896.75,37.20 896.75,35.30 Z" fill="#565578"/>
<circle cx="921.60" cy="20.80" r="4.3" fill="#565578"/>
<path d="M915.55,30.60 Q915.55,25.60 920.55,25.60 L922.65,25.60 Q927.65,25.60 927.65,30.60 L927.65,35.30 Q927.65,37.20 925.10,37.70 L924.50,46.10 Q924.50,47.50 923.10,47.50 L920.10,47.50 Q918.70,47.50 918.70,46.10 L918.10,37.70 Q915.55,37.20 915.55,35.30 Z" fill="#565578"/>
<circle cx="940.40" cy="20.80" r="4.3" fill="#565578"/>
<path d="M934.35,30.60 Q934.35,25.60 939.35,25.60 L941.45,25.60 Q946.45,25.60 946.45,30.60 L946.45,35.30 Q946.45,37.20 943.90,37.70 L943.30,46.10 Q943.30,47.50 941.90,47.50 L938.90,47.50 Q937.50,47.50 937.50,46.10 L936.90,37.70 Q934.35,37.20 934.35,35.30 Z" fill="#565578"/>
<circle cx="959.20" cy="20.80" r="4.3" fill="#565578"/>
<path d="M953.15,30.60 Q953.15,25.60 958.15,25.60 L960.25,25.60 Q965.25,25.60 965.25,30.60 L965.25,35.30 Q965.25,37.20 962.70,37.70 L962.10,46.10 Q962.10,47.50 960.70,47.50 L957.70,47.50 Q956.30,47.50 956.30,46.10 L955.70,37.70 Q953.15,37.20 953.15,35.30 Z" fill="#565578"/>
<circle cx="978.00" cy="20.80" r="4.3" fill="#565578"/>
<path d="M971.95,30.60 Q971.95,25.60 976.95,25.60 L979.05,25.60 Q984.05,25.60 984.05,30.60 L984.05,35.30 Q984.05,37.20 981.50,37.70 L980.90,46.10 Q980.90,47.50 979.50,47.50 L976.50,47.50 Q975.10,47.50 975.10,46.10 L974.50,37.70 Q971.95,37.20 971.95,35.30 Z" fill="#565578"/>
<circle cx="996.80" cy="20.80" r="4.3" fill="#565578"/>
<path d="M990.75,30.60 Q990.75,25.60 995.75,25.60 L997.85,25.60 Q1002.85,25.60 1002.85,30.60 L1002.85,35.30 Q1002.85,37.20 1000.30,37.70 L999.70,46.10 Q999.70,47.50 998.30,47.50 L995.30,47.50 Q993.90,47.50 993.90,46.10 L993.30,37.70 Q990.75,37.20 990.75,35.30 Z" fill="#565578"/>
<circle cx="1015.60" cy="20.80" r="4.3" fill="#565578"/>
<path d="M1009.55,30.60 Q1009.55,25.60 1014.55,25.60 L1016.65,25.60 Q1021.65,25.60 1021.65,30.60 L1021.65,35.30 Q1021.65,37.20 1019.10,37.70 L1018.50,46.10 Q1018.50,47.50 1017.10,47.50 L1014.10,47.50 Q1012.70,47.50 1012.70,46.10 L1012.10,37.70 Q1009.55,37.20 1009.55,35.30 Z" fill="#565578"/>
<circle cx="1034.40" cy="20.80" r="4.3" fill="#565578"/>
<path d="M1028.35,30.60 Q1028.35,25.60 1033.35,25.60 L1035.45,25.60 Q1040.45,25.60 1040.45,30.60 L1040.45,35.30 Q1040.45,37.20 1037.90,37.70 L1037.30,46.10 Q1037.30,47.50 1035.90,47.50 L1032.90,47.50 Q1031.50,47.50 1031.50,46.10 L1030.90,37.70 Q1028.35,37.20 1028.35,35.30 Z" fill="#565578"/>
<circle cx="1053.20" cy="20.80" r="4.3" fill="#565578"/>
<path d="M1047.15,30.60 Q1047.15,25.60 1052.15,25.60 L1054.25,25.60 Q1059.25,25.60 1059.25,30.60 L1059.25,35.30 Q1059.25,37.20 1056.70,37.70 L1056.10,46.10 Q1056.10,47.50 1054.70,47.50 L1051.70,47.50 Q1050.30,47.50 1050.30,46.10 L1049.70,37.70 Q1047.15,37.20 1047.15,35.30 Z" fill="#565578"/>
<circle cx="884.00" cy="195.90" r="4.3" fill="#74729a"/>
<path d="M877.95,205.70 Q877.95,200.70 882.95,200.70 L885.05,200.70 Q890.05,200.70 890.05,205.70 L890.05,210.40 Q890.05,212.30 887.50,212.80 L886.90,221.20 Q886.90,222.60 885.50,222.60 L882.50,222.60 Q881.10,222.60 881.10,221.20 L880.50,212.80 Q877.95,212.30 877.95,210.40 Z" fill="#74729a"/>
<circle cx="902.80" cy="195.90" r="4.3" fill="#74729a"/>
<path d="M896.75,205.70 Q896.75,200.70 901.75,200.70 L903.85,200.70 Q908.85,200.70 908.85,205.70 L908.85,210.40 Q908.85,212.30 906.30,212.80 L905.70,221.20 Q905.70,222.60 904.30,222.60 L901.30,222.60 Q899.90,222.60 899.90,221.20 L899.30,212.80 Q896.75,212.30 896.75,210.40 Z" fill="#74729a"/>
<circle cx="921.60" cy="195.90" r="4.3" fill="#74729a"/>
<path d="M915.55,205.70 Q915.55,200.70 920.55,200.70 L922.65,200.70 Q927.65,200.70 927.65,205.70 L927.65,210.40 Q927.65,212.30 925.10,212.80 L924.50,221.20 Q924.50,222.60 923.10,222.60 L920.10,222.60 Q918.70,222.60 918.70,221.20 L918.10,212.80 Q915.55,212.30 915.55,210.40 Z" fill="#74729a"/>
<circle cx="940.40" cy="195.90" r="4.3" fill="#74729a"/>
<path d="M934.35,205.70 Q934.35,200.70 939.35,200.70 L941.45,200.70 Q946.45,200.70 946.45,205.70 L946.45,210.40 Q946.45,212.30 943.90,212.80 L943.30,221.20 Q943.30,222.60 941.90,222.60 L938.90,222.60 Q937.50,222.60 937.50,221.20 L936.90,212.80 Q934.35,212.30 934.35,210.40 Z" fill="#74729a"/>
<circle cx="959.20" cy="195.90" r="4.3" fill="#74729a"/>
<path d="M953.15,205.70 Q953.15,200.70 958.15,200.70 L960.25,200.70 Q965.25,200.70 965.25,205.70 L965.25,210.40 Q965.25,212.30 962.70,212.80 L962.10,221.20 Q962.10,222.60 960.70,222.60 L957.70,222.60 Q956.30,222.60 956.30,221.20 L955.70,212.80 Q953.15,212.30 953.15,210.40 Z" fill="#74729a"/>
<circle cx="978.00" cy="195.90" r="4.3" fill="#74729a"/>
<path d="M971.95,205.70 Q971.95,200.70 976.95,200.70 L979.05,200.70 Q984.05,200.70 984.05,205.70 L984.05,210.40 Q984.05,212.30 981.50,212.80 L980.90,221.20 Q980.90,222.60 979.50,222.60 L976.50,222.60 Q975.10,222.60 975.10,221.20 L974.50,212.80 Q971.95,212.30 971.95,210.40 Z" fill="#74729a"/>
<circle cx="996.80" cy="195.90" r="4.3" fill="#74729a"/>
<path d="M990.75,205.70 Q990.75,200.70 995.75,200.70 L997.85,200.70 Q1002.85,200.70 1002.85,205.70 L1002.85,210.40 Q1002.85,212.30 1000.30,212.80 L999.70,221.20 Q999.70,222.60 998.30,222.60 L995.30,222.60 Q993.90,222.60 993.90,221.20 L993.30,212.80 Q990.75,212.30 990.75,210.40 Z" fill="#74729a"/>
<circle cx="1015.60" cy="195.90" r="4.3" fill="#74729a"/>
<path d="M1009.55,205.70 Q1009.55,200.70 1014.55,200.70 L1016.65,200.70 Q1021.65,200.70 1021.65,205.70 L1021.65,210.40 Q1021.65,212.30 1019.10,212.80 L1018.50,221.20 Q1018.50,222.60 1017.10,222.60 L1014.10,222.60 Q1012.70,222.60 1012.70,221.20 L1012.10,212.80 Q1009.55,212.30 1009.55,210.40 Z" fill="#74729a"/>
<circle cx="1034.40" cy="195.90" r="4.3" fill="#74729a"/>
<path d="M1028.35,205.70 Q1028.35,200.70 1033.35,200.70 L1035.45,200.70 Q1040.45,200.70 1040.45,205.70 L1040.45,210.40 Q1040.45,212.30 1037.90,212.80 L1037.30,221.20 Q1037.30,222.60 1035.90,222.60 L1032.90,222.60 Q1031.50,222.60 1031.50,221.20 L1030.90,212.80 Q1028.35,212.30 1028.35,210.40 Z" fill="#74729a"/>
<circle cx="1053.20" cy="195.90" r="4.3" fill="#74729a"/>
<path d="M1047.15,205.70 Q1047.15,200.70 1052.15,200.70 L1054.25,200.70 Q1059.25,200.70 1059.25,205.70 L1059.25,210.40 Q1059.25,212.30 1056.70,212.80 L1056.10,221.20 Q1056.10,222.60 1054.70,222.60 L1051.70,222.60 Q1050.30,222.60 1050.30,221.20 L1049.70,212.80 Q1047.15,212.30 1047.15,210.40 Z" fill="#74729a"/>
<circle cx="884.00" cy="232.70" r="4.3" fill="#74729a"/>
<path d="M877.95,242.50 Q877.95,237.50 882.95,237.50 L885.05,237.50 Q890.05,237.50 890.05,242.50 L890.05,247.20 Q890.05,249.10 887.50,249.60 L886.90,258.00 Q886.90,259.40 885.50,259.40 L882.50,259.40 Q881.10,259.40 881.10,258.00 L880.50,249.60 Q877.95,249.10 877.95,247.20 Z" fill="#74729a"/>
<circle cx="902.80" cy="232.70" r="4.3" fill="#74729a"/>
<path d="M896.75,242.50 Q896.75,237.50 901.75,237.50 L903.85,237.50 Q908.85,237.50 908.85,242.50 L908.85,247.20 Q908.85,249.10 906.30,249.60 L905.70,258.00 Q905.70,259.40 904.30,259.40 L901.30,259.40 Q899.90,259.40 899.90,258.00 L899.30,249.60 Q896.75,249.10 896.75,247.20 Z" fill="#74729a"/>
<circle cx="921.60" cy="232.70" r="4.3" fill="#74729a"/>
<path d="M915.55,242.50 Q915.55,237.50 920.55,237.50 L922.65,237.50 Q927.65,237.50 927.65,242.50 L927.65,247.20 Q927.65,249.10 925.10,249.60 L924.50,258.00 Q924.50,259.40 923.10,259.40 L920.10,259.40 Q918.70,259.40 918.70,258.00 L918.10,249.60 Q915.55,249.10 915.55,247.20 Z" fill="#74729a"/>
<circle cx="940.40" cy="232.70" r="4.3" fill="#74729a"/>
<path d="M934.35,242.50 Q934.35,237.50 939.35,237.50 L941.45,237.50 Q946.45,237.50 946.45,242.50 L946.45,247.20 Q946.45,249.10 943.90,249.60 L943.30,258.00 Q943.30,259.40 941.90,259.40 L938.90,259.40 Q937.50,259.40 937.50,258.00 L936.90,249.60 Q934.35,249.10 934.35,247.20 Z" fill="#74729a"/>
<circle cx="959.20" cy="232.70" r="4.3" fill="#74729a"/>
<path d="M953.15,242.50 Q953.15,237.50 958.15,237.50 L960.25,237.50 Q965.25,237.50 965.25,242.50 L965.25,247.20 Q965.25,249.10 962.70,249.60 L962.10,258.00 Q962.10,259.40 960.70,259.40 L957.70,259.40 Q956.30,259.40 956.30,258.00 L955.70,249.60 Q953.15,249.10 953.15,247.20 Z" fill="#74729a"/>
<circle cx="978.00" cy="232.70" r="4.3" fill="#74729a"/>
<path d="M971.95,242.50 Q971.95,237.50 976.95,237.50 L979.05,237.50 Q984.05,237.50 984.05,242.50 L984.05,247.20 Q984.05,249.10 981.50,249.60 L980.90,258.00 Q980.90,259.40 979.50,259.40 L976.50,259.40 Q975.10,259.40 975.10,258.00 L974.50,249.60 Q971.95,249.10 971.95,247.20 Z" fill="#74729a"/>
<circle cx="996.80" cy="232.70" r="4.3" fill="#74729a"/>
<path d="M990.75,242.50 Q990.75,237.50 995.75,237.50 L997.85,237.50 Q1002.85,237.50 1002.85,242.50 L1002.85,247.20 Q1002.85,249.10 1000.30,249.60 L999.70,258.00 Q999.70,259.40 998.30,259.40 L995.30,259.40 Q993.90,259.40 993.90,258.00 L993.30,249.60 Q990.75,249.10 990.75,247.20 Z" fill="#74729a"/>
<circle cx="1015.60" cy="232.70" r="4.3" fill="#74729a"/>
<path d="M1009.55,242.50 Q1009.55,237.50 1014.55,237.50 L1016.65,237.50 Q1021.65,237.50 1021.65,242.50 L1021.65,247.20 Q1021.65,249.10 1019.10,249.60 L1018.50,258.00 Q1018.50,259.40 1017.10,259.40 L1014.10,259.40 Q1012.70,259.40 1012.70,258.00 L1012.10,249.60 Q1009.55,249.10 1009.55,247.20 Z" fill="#74729a"/>
<circle cx="1034.40" cy="232.70" r="4.3" fill="#74729a"/>
<path d="M1028.35,242.50 Q1028.35,237.50 1033.35,237.50 L1035.45,237.50 Q1040.45,237.50 1040.45,242.50 L1040.45,247.20 Q1040.45,249.10 1037.90,249.60 L1037.30,258.00 Q1037.30,259.40 1035.90,259.40 L1032.90,259.40 Q1031.50,259.40 1031.50,258.00 L1030.90,249.60 Q1028.35,249.10 1028.35,247.20 Z" fill="#74729a"/>
<circle cx="1053.20" cy="232.70" r="4.3" fill="#74729a"/>
<path d="M1047.15,242.50 Q1047.15,237.50 1052.15,237.50 L1054.25,237.50 Q1059.25,237.50 1059.25,242.50 L1059.25,247.20 Q1059.25,249.10 1056.70,249.60 L1056.10,258.00 Q1056.10,259.40 1054.70,259.40 L1051.70,259.40 Q1050.30,259.40 1050.30,258.00 L1049.70,249.60 Q1047.15,249.10 1047.15,247.20 Z" fill="#74729a"/>
<circle cx="884.00" cy="269.50" r="4.3" fill="#74729a"/>
<path d="M877.95,279.30 Q877.95,274.30 882.95,274.30 L885.05,274.30 Q890.05,274.30 890.05,279.30 L890.05,284.00 Q890.05,285.90 887.50,286.40 L886.90,294.80 Q886.90,296.20 885.50,296.20 L882.50,296.20 Q881.10,296.20 881.10,294.80 L880.50,286.40 Q877.95,285.90 877.95,284.00 Z" fill="#74729a"/>
<circle cx="902.80" cy="269.50" r="4.3" fill="#74729a"/>
<path d="M896.75,279.30 Q896.75,274.30 901.75,274.30 L903.85,274.30 Q908.85,274.30 908.85,279.30 L908.85,284.00 Q908.85,285.90 906.30,286.40 L905.70,294.80 Q905.70,296.20 904.30,296.20 L901.30,296.20 Q899.90,296.20 899.90,294.80 L899.30,286.40 Q896.75,285.90 896.75,284.00 Z" fill="#74729a"/>
<circle cx="921.60" cy="269.50" r="4.3" fill="#74729a"/>
<path d="M915.55,279.30 Q915.55,274.30 920.55,274.30 L922.65,274.30 Q927.65,274.30 927.65,279.30 L927.65,284.00 Q927.65,285.90 925.10,286.40 L924.50,294.80 Q924.50,296.20 923.10,296.20 L920.10,296.20 Q918.70,296.20 918.70,294.80 L918.10,286.40 Q915.55,285.90 915.55,284.00 Z" fill="#74729a"/>
<circle cx="940.40" cy="269.50" r="4.3" fill="#74729a"/>
<path d="M934.35,279.30 Q934.35,274.30 939.35,274.30 L941.45,274.30 Q946.45,274.30 946.45,279.30 L946.45,284.00 Q946.45,285.90 943.90,286.40 L943.30,294.80 Q943.30,296.20 941.90,296.20 L938.90,296.20 Q937.50,296.20 937.50,294.80 L936.90,286.40 Q934.35,285.90 934.35,284.00 Z" fill="#74729a"/>
<circle cx="959.20" cy="269.50" r="4.3" fill="#74729a"/>
<path d="M953.15,279.30 Q953.15,274.30 958.15,274.30 L960.25,274.30 Q965.25,274.30 965.25,279.30 L965.25,284.00 Q965.25,285.90 962.70,286.40 L962.10,294.80 Q962.10,296.20 960.70,296.20 L957.70,296.20 Q956.30,296.20 956.30,294.80 L955.70,286.40 Q953.15,285.90 953.15,284.00 Z" fill="#74729a"/>
<circle cx="978.00" cy="269.50" r="4.3" fill="#74729a"/>
<path d="M971.95,279.30 Q971.95,274.30 976.95,274.30 L979.05,274.30 Q984.05,274.30 984.05,279.30 L984.05,284.00 Q984.05,285.90 981.50,286.40 L980.90,294.80 Q980.90,296.20 979.50,296.20 L976.50,296.20 Q975.10,296.20 975.10,294.80 L974.50,286.40 Q971.95,285.90 971.95,284.00 Z" fill="#74729a"/>
<circle cx="996.80" cy="269.50" r="4.3" fill="#74729a"/>
<path d="M990.75,279.30 Q990.75,274.30 995.75,274.30 L997.85,274.30 Q1002.85,274.30 1002.85,279.30 L1002.85,284.00 Q1002.85,285.90 1000.30,286.40 L999.70,294.80 Q999.70,296.20 998.30,296.20 L995.30,296.20 Q993.90,296.20 993.90,294.80 L993.30,286.40 Q990.75,285.90 990.75,284.00 Z" fill="#74729a"/>
<circle cx="1015.60" cy="269.50" r="4.3" fill="#74729a"/>
<path d="M1009.55,279.30 Q1009.55,274.30 1014.55,274.30 L1016.65,274.30 Q1021.65,274.30 1021.65,279.30 L1021.65,284.00 Q1021.65,285.90 1019.10,286.40 L1018.50,294.80 Q1018.50,296.20 1017.10,296.20 L1014.10,296.20 Q1012.70,296.20 1012.70,294.80 L1012.10,286.40 Q1009.55,285.90 1009.55,284.00 Z" fill="#74729a"/>
<circle cx="1034.40" cy="269.50" r="4.3" fill="#74729a"/>
<path d="M1028.35,279.30 Q1028.35,274.30 1033.35,274.30 L1035.45,274.30 Q1040.45,274.30 1040.45,279.30 L1040.45,284.00 Q1040.45,285.90 1037.90,286.40 L1037.30,294.80 Q1037.30,296.20 1035.90,296.20 L1032.90,296.20 Q1031.50,296.20 1031.50,294.80 L1030.90,286.40 Q1028.35,285.90 1028.35,284.00 Z" fill="#74729a"/>
<circle cx="1053.20" cy="269.50" r="4.3" fill="#74729a"/>
<path d="M1047.15,279.30 Q1047.15,274.30 1052.15,274.30 L1054.25,274.30 Q1059.25,274.30 1059.25,279.30 L1059.25,284.00 Q1059.25,285.90 1056.70,286.40 L1056.10,294.80 Q1056.10,296.20 1054.70,296.20 L1051.70,296.20 Q1050.30,296.20 1050.30,294.80 L1049.70,286.40 Q1047.15,285.90 1047.15,284.00 Z" fill="#74729a"/>
<circle cx="884.00" cy="306.30" r="4.3" fill="#74729a"/>
<path d="M877.95,316.10 Q877.95,311.10 882.95,311.10 L885.05,311.10 Q890.05,311.10 890.05,316.10 L890.05,320.80 Q890.05,322.70 887.50,323.20 L886.90,331.60 Q886.90,333.00 885.50,333.00 L882.50,333.00 Q881.10,333.00 881.10,331.60 L880.50,323.20 Q877.95,322.70 877.95,320.80 Z" fill="#74729a"/>
<circle cx="902.80" cy="306.30" r="4.3" fill="#74729a"/>
<path d="M896.75,316.10 Q896.75,311.10 901.75,311.10 L903.85,311.10 Q908.85,311.10 908.85,316.10 L908.85,320.80 Q908.85,322.70 906.30,323.20 L905.70,331.60 Q905.70,333.00 904.30,333.00 L901.30,333.00 Q899.90,333.00 899.90,331.60 L899.30,323.20 Q896.75,322.70 896.75,320.80 Z" fill="#74729a"/>
<circle cx="921.60" cy="306.30" r="4.3" fill="#74729a"/>
<path d="M915.55,316.10 Q915.55,311.10 920.55,311.10 L922.65,311.10 Q927.65,311.10 927.65,316.10 L927.65,320.80 Q927.65,322.70 925.10,323.20 L924.50,331.60 Q924.50,333.00 923.10,333.00 L920.10,333.00 Q918.70,333.00 918.70,331.60 L918.10,323.20 Q915.55,322.70 915.55,320.80 Z" fill="#74729a"/>
<circle cx="940.40" cy="306.30" r="4.3" fill="#74729a"/>
<path d="M934.35,316.10 Q934.35,311.10 939.35,311.10 L941.45,311.10 Q946.45,311.10 946.45,316.10 L946.45,320.80 Q946.45,322.70 943.90,323.20 L943.30,331.60 Q943.30,333.00 941.90,333.00 L938.90,333.00 Q937.50,333.00 937.50,331.60 L936.90,323.20 Q934.35,322.70 934.35,320.80 Z" fill="#74729a"/>
<circle cx="959.20" cy="306.30" r="4.3" fill="#74729a"/>
<path d="M953.15,316.10 Q953.15,311.10 958.15,311.10 L960.25,311.10 Q965.25,311.10 965.25,316.10 L965.25,320.80 Q965.25,322.70 962.70,323.20 L962.10,331.60 Q962.10,333.00 960.70,333.00 L957.70,333.00 Q956.30,333.00 956.30,331.60 L955.70,323.20 Q953.15,322.70 953.15,320.80 Z" fill="#74729a"/>
<circle cx="978.00" cy="306.30" r="4.3" fill="#74729a"/>
<path d="M971.95,316.10 Q971.95,311.10 976.95,311.10 L979.05,311.10 Q984.05,311.10 984.05,316.10 L984.05,320.80 Q984.05,322.70 981.50,323.20 L980.90,331.60 Q980.90,333.00 979.50,333.00 L976.50,333.00 Q975.10,333.00 975.10,331.60 L974.50,323.20 Q971.95,322.70 971.95,320.80 Z" fill="#74729a"/>
<circle cx="996.80" cy="306.30" r="4.3" fill="#74729a"/>
<path d="M990.75,316.10 Q990.75,311.10 995.75,311.10 L997.85,311.10 Q1002.85,311.10 1002.85,316.10 L1002.85,320.80 Q1002.85,322.70 1000.30,323.20 L999.70,331.60 Q999.70,333.00 998.30,333.00 L995.30,333.00 Q993.90,333.00 993.90,331.60 L993.30,323.20 Q990.75,322.70 990.75,320.80 Z" fill="#74729a"/>
<circle cx="1015.60" cy="306.30" r="4.3" fill="#74729a"/>
<path d="M1009.55,316.10 Q1009.55,311.10 1014.55,311.10 L1016.65,311.10 Q1021.65,311.10 1021.65,316.10 L1021.65,320.80 Q1021.65,322.70 1019.10,323.20 L1018.50,331.60 Q1018.50,333.00 1017.10,333.00 L1014.10,333.00 Q1012.70,333.00 1012.70,331.60 L1012.10,323.20 Q1009.55,322.70 1009.55,320.80 Z" fill="#74729a"/>
<circle cx="1034.40" cy="306.30" r="4.3" fill="#74729a"/>
<path d="M1028.35,316.10 Q1028.35,311.10 1033.35,311.10 L1035.45,311.10 Q1040.45,311.10 1040.45,316.10 L1040.45,320.80 Q1040.45,322.70 1037.90,323.20 L1037.30,331.60 Q1037.30,333.00 1035.90,333.00 L1032.90,333.00 Q1031.50,333.00 1031.50,331.60 L1030.90,323.20 Q1028.35,322.70 1028.35,320.80 Z" fill="#74729a"/>
<circle cx="1053.20" cy="306.30" r="4.3" fill="#74729a"/>
<path d="M1047.15,316.10 Q1047.15,311.10 1052.15,311.10 L1054.25,311.10 Q1059.25,311.10 1059.25,316.10 L1059.25,320.80 Q1059.25,322.70 1056.70,323.20 L1056.10,331.60 Q1056.10,333.00 1054.70,333.00 L1051.70,333.00 Q1050.30,333.00 1050.30,331.60 L1049.70,323.20 Q1047.15,322.70 1047.15,320.80 Z" fill="#74729a"/>
<circle cx="884.00" cy="459.30" r="4.3" fill="#a09fd4"/>
<path d="M877.95,469.10 Q877.95,464.10 882.95,464.10 L885.05,464.10 Q890.05,464.10 890.05,469.10 L890.05,473.80 Q890.05,475.70 887.50,476.20 L886.90,484.60 Q886.90,486.00 885.50,486.00 L882.50,486.00 Q881.10,486.00 881.10,484.60 L880.50,476.20 Q877.95,475.70 877.95,473.80 Z" fill="#a09fd4"/>
<circle cx="902.80" cy="459.30" r="4.3" fill="#a09fd4"/>
<path d="M896.75,469.10 Q896.75,464.10 901.75,464.10 L903.85,464.10 Q908.85,464.10 908.85,469.10 L908.85,473.80 Q908.85,475.70 906.30,476.20 L905.70,484.60 Q905.70,486.00 904.30,486.00 L901.30,486.00 Q899.90,486.00 899.90,484.60 L899.30,476.20 Q896.75,475.70 896.75,473.80 Z" fill="#a09fd4"/>
<circle cx="921.60" cy="459.30" r="4.3" fill="#a09fd4"/>
<path d="M915.55,469.10 Q915.55,464.10 920.55,464.10 L922.65,464.10 Q927.65,464.10 927.65,469.10 L927.65,473.80 Q927.65,475.70 925.10,476.20 L924.50,484.60 Q924.50,486.00 923.10,486.00 L920.10,486.00 Q918.70,486.00 918.70,484.60 L918.10,476.20 Q915.55,475.70 915.55,473.80 Z" fill="#a09fd4"/>
<circle cx="940.40" cy="459.30" r="4.3" fill="#a09fd4"/>
<path d="M934.35,469.10 Q934.35,464.10 939.35,464.10 L941.45,464.10 Q946.45,464.10 946.45,469.10 L946.45,473.80 Q946.45,475.70 943.90,476.20 L943.30,484.60 Q943.30,486.00 941.90,486.00 L938.90,486.00 Q937.50,486.00 937.50,484.60 L936.90,476.20 Q934.35,475.70 934.35,473.80 Z" fill="#a09fd4"/>
<circle cx="959.20" cy="459.30" r="4.3" fill="#a09fd4"/>
<path d="M953.15,469.10 Q953.15,464.10 958.15,464.10 L960.25,464.10 Q965.25,464.10 965.25,469.10 L965.25,473.80 Q965.25,475.70 962.70,476.20 L962.10,484.60 Q962.10,486.00 960.70,486.00 L957.70,486.00 Q956.30,486.00 956.30,484.60 L955.70,476.20 Q953.15,475.70 953.15,473.80 Z" fill="#a09fd4"/>
<circle cx="978.00" cy="459.30" r="4.3" fill="#a09fd4"/>
<path d="M971.95,469.10 Q971.95,464.10 976.95,464.10 L979.05,464.10 Q984.05,464.10 984.05,469.10 L984.05,473.80 Q984.05,475.70 981.50,476.20 L980.90,484.60 Q980.90,486.00 979.50,486.00 L976.50,486.00 Q975.10,486.00 975.10,484.60 L974.50,476.20 Q971.95,475.70 971.95,473.80 Z" fill="#a09fd4"/>
<circle cx="996.80" cy="459.30" r="4.3" fill="#a09fd4"/>
<path d="M990.75,469.10 Q990.75,464.10 995.75,464.10 L997.85,464.10 Q1002.85,464.10 1002.85,469.10 L1002.85,473.80 Q1002.85,475.70 1000.30,476.20 L999.70,484.60 Q999.70,486.00 998.30,486.00 L995.30,486.00 Q993.90,486.00 993.90,484.60 L993.30,476.20 Q990.75,475.70 990.75,473.80 Z" fill="#a09fd4"/>
<circle cx="1015.60" cy="459.30" r="4.3" fill="#a09fd4"/>
<path d="M1009.55,469.10 Q1009.55,464.10 1014.55,464.10 L1016.65,464.10 Q1021.65,464.10 1021.65,469.10 L1021.65,473.80 Q1021.65,475.70 1019.10,476.20 L1018.50,484.60 Q1018.50,486.00 1017.10,486.00 L1014.10,486.00 Q1012.70,486.00 1012.70,484.60 L1012.10,476.20 Q1009.55,475.70 1009.55,473.80 Z" fill="#a09fd4"/>
<circle cx="1034.40" cy="459.30" r="4.3" fill="#a09fd4"/>
<path d="M1028.35,469.10 Q1028.35,464.10 1033.35,464.10 L1035.45,464.10 Q1040.45,464.10 1040.45,469.10 L1040.45,473.80 Q1040.45,475.70 1037.90,476.20 L1037.30,484.60 Q1037.30,486.00 1035.90,486.00 L1032.90,486.00 Q1031.50,486.00 1031.50,484.60 L1030.90,476.20 Q1028.35,475.70 1028.35,473.80 Z" fill="#a09fd4"/>
<circle cx="1053.20" cy="459.30" r="4.3" fill="#a09fd4"/>
<path d="M1047.15,469.10 Q1047.15,464.10 1052.15,464.10 L1054.25,464.10 Q1059.25,464.10 1059.25,469.10 L1059.25,473.80 Q1059.25,475.70 1056.70,476.20 L1056.10,484.60 Q1056.10,486.00 1054.70,486.00 L1051.70,486.00 Q1050.30,486.00 1050.30,484.60 L1049.70,476.20 Q1047.15,475.70 1047.15,473.80 Z" fill="#a09fd4"/>
<circle cx="884.00" cy="496.10" r="4.3" fill="#a09fd4"/>
<path d="M877.95,505.90 Q877.95,500.90 882.95,500.90 L885.05,500.90 Q890.05,500.90 890.05,505.90 L890.05,510.60 Q890.05,512.50 887.50,513.00 L886.90,521.40 Q886.90,522.80 885.50,522.80 L882.50,522.80 Q881.10,522.80 881.10,521.40 L880.50,513.00 Q877.95,512.50 877.95,510.60 Z" fill="#a09fd4"/>
<circle cx="902.80" cy="496.10" r="4.3" fill="#a09fd4"/>
<path d="M896.75,505.90 Q896.75,500.90 901.75,500.90 L903.85,500.90 Q908.85,500.90 908.85,505.90 L908.85,510.60 Q908.85,512.50 906.30,513.00 L905.70,521.40 Q905.70,522.80 904.30,522.80 L901.30,522.80 Q899.90,522.80 899.90,521.40 L899.30,513.00 Q896.75,512.50 896.75,510.60 Z" fill="#a09fd4"/>
<circle cx="921.60" cy="496.10" r="4.3" fill="#a09fd4"/>
<path d="M915.55,505.90 Q915.55,500.90 920.55,500.90 L922.65,500.90 Q927.65,500.90 927.65,505.90 L927.65,510.60 Q927.65,512.50 925.10,513.00 L924.50,521.40 Q924.50,522.80 923.10,522.80 L920.10,522.80 Q918.70,522.80 918.70,521.40 L918.10,513.00 Q915.55,512.50 915.55,510.60 Z" fill="#a09fd4"/>
<circle cx="940.40" cy="496.10" r="4.3" fill="#a09fd4"/>
<path d="M934.35,505.90 Q934.35,500.90 939.35,500.90 L941.45,500.90 Q946.45,500.90 946.45,505.90 L946.45,510.60 Q946.45,512.50 943.90,513.00 L943.30,521.40 Q943.30,522.80 941.90,522.80 L938.90,522.80 Q937.50,522.80 937.50,521.40 L936.90,513.00 Q934.35,512.50 934.35,510.60 Z" fill="#a09fd4"/>
<circle cx="959.20" cy="496.10" r="4.3" fill="#a09fd4"/>
<path d="M953.15,505.90 Q953.15,500.90 958.15,500.90 L960.25,500.90 Q965.25,500.90 965.25,505.90 L965.25,510.60 Q965.25,512.50 962.70,513.00 L962.10,521.40 Q962.10,522.80 960.70,522.80 L957.70,522.80 Q956.30,522.80 956.30,521.40 L955.70,513.00 Q953.15,512.50 953.15,510.60 Z" fill="#a09fd4"/>
<circle cx="978.00" cy="496.10" r="4.3" fill="#a09fd4"/>
<path d="M971.95,505.90 Q971.95,500.90 976.95,500.90 L979.05,500.90 Q984.05,500.90 984.05,505.90 L984.05,510.60 Q984.05,512.50 981.50,513.00 L980.90,521.40 Q980.90,522.80 979.50,522.80 L976.50,522.80 Q975.10,522.80 975.10,521.40 L974.50,513.00 Q971.95,512.50 971.95,510.60 Z" fill="#a09fd4"/>
<circle cx="996.80" cy="496.10" r="4.3" fill="#a09fd4"/>
<path d="M990.75,505.90 Q990.75,500.90 995.75,500.90 L997.85,500.90 Q1002.85,500.90 1002.85,505.90 L1002.85,510.60 Q1002.85,512.50 1000.30,513.00 L999.70,521.40 Q999.70,522.80 998.30,522.80 L995.30,522.80 Q993.90,522.80 993.90,521.40 L993.30,513.00 Q990.75,512.50 990.75,510.60 Z" fill="#a09fd4"/>
<circle cx="1015.60" cy="496.10" r="4.3" fill="#a09fd4"/>
<path d="M1009.55,505.90 Q1009.55,500.90 1014.55,500.90 L1016.65,500.90 Q1021.65,500.90 1021.65,505.90 L1021.65,510.60 Q1021.65,512.50 1019.10,513.00 L1018.50,521.40 Q1018.50,522.80 1017.10,522.80 L1014.10,522.80 Q1012.70,522.80 1012.70,521.40 L1012.10,513.00 Q1009.55,512.50 1009.55,510.60 Z" fill="#a09fd4"/>
<circle cx="1034.40" cy="496.10" r="4.3" fill="#a09fd4"/>
<path d="M1028.35,505.90 Q1028.35,500.90 1033.35,500.90 L1035.45,500.90 Q1040.45,500.90 1040.45,505.90 L1040.45,510.60 Q1040.45,512.50 1037.90,513.00 L1037.30,521.40 Q1037.30,522.80 1035.90,522.80 L1032.90,522.80 Q1031.50,522.80 1031.50,521.40 L1030.90,513.00 Q1028.35,512.50 1028.35,510.60 Z" fill="#a09fd4"/>
<circle cx="1053.20" cy="496.10" r="4.3" fill="#a09fd4"/>
<path d="M1047.15,505.90 Q1047.15,500.90 1052.15,500.90 L1054.25,500.90 Q1059.25,500.90 1059.25,505.90 L1059.25,510.60 Q1059.25,512.50 1056.70,513.00 L1056.10,521.40 Q1056.10,522.80 1054.70,522.80 L1051.70,522.80 Q1050.30,522.80 1050.30,521.40 L1049.70,513.00 Q1047.15,512.50 1047.15,510.60 Z" fill="#a09fd4"/>
<circle cx="884.00" cy="532.90" r="4.3" fill="#a09fd4"/>
<path d="M877.95,542.70 Q877.95,537.70 882.95,537.70 L885.05,537.70 Q890.05,537.70 890.05,542.70 L890.05,547.40 Q890.05,549.30 887.50,549.80 L886.90,558.20 Q886.90,559.60 885.50,559.60 L882.50,559.60 Q881.10,559.60 881.10,558.20 L880.50,549.80 Q877.95,549.30 877.95,547.40 Z" fill="#a09fd4"/>
<circle cx="902.80" cy="532.90" r="4.3" fill="#a09fd4"/>
<path d="M896.75,542.70 Q896.75,537.70 901.75,537.70 L903.85,537.70 Q908.85,537.70 908.85,542.70 L908.85,547.40 Q908.85,549.30 906.30,549.80 L905.70,558.20 Q905.70,559.60 904.30,559.60 L901.30,559.60 Q899.90,559.60 899.90,558.20 L899.30,549.80 Q896.75,549.30 896.75,547.40 Z" fill="#a09fd4"/>
<circle cx="921.60" cy="532.90" r="4.3" fill="#a09fd4"/>
<path d="M915.55,542.70 Q915.55,537.70 920.55,537.70 L922.65,537.70 Q927.65,537.70 927.65,542.70 L927.65,547.40 Q927.65,549.30 925.10,549.80 L924.50,558.20 Q924.50,559.60 923.10,559.60 L920.10,559.60 Q918.70,559.60 918.70,558.20 L918.10,549.80 Q915.55,549.30 915.55,547.40 Z" fill="#a09fd4"/>
<circle cx="940.40" cy="532.90" r="4.3" fill="#a09fd4"/>
<path d="M934.35,542.70 Q934.35,537.70 939.35,537.70 L941.45,537.70 Q946.45,537.70 946.45,542.70 L946.45,547.40 Q946.45,549.30 943.90,549.80 L943.30,558.20 Q943.30,559.60 941.90,559.60 L938.90,559.60 Q937.50,559.60 937.50,558.20 L936.90,549.80 Q934.35,549.30 934.35,547.40 Z" fill="#a09fd4"/>
<circle cx="959.20" cy="532.90" r="4.3" fill="#a09fd4"/>
<path d="M953.15,542.70 Q953.15,537.70 958.15,537.70 L960.25,537.70 Q965.25,537.70 965.25,542.70 L965.25,547.40 Q965.25,549.30 962.70,549.80 L962.10,558.20 Q962.10,559.60 960.70,559.60 L957.70,559.60 Q956.30,559.60 956.30,558.20 L955.70,549.80 Q953.15,549.30 953.15,547.40 Z" fill="#a09fd4"/>
<circle cx="978.00" cy="532.90" r="4.3" fill="#a09fd4"/>
<path d="M971.95,542.70 Q971.95,537.70 976.95,537.70 L979.05,537.70 Q984.05,537.70 984.05,542.70 L984.05,547.40 Q984.05,549.30 981.50,549.80 L980.90,558.20 Q980.90,559.60 979.50,559.60 L976.50,559.60 Q975.10,559.60 975.10,558.20 L974.50,549.80 Q971.95,549.30 971.95,547.40 Z" fill="#a09fd4"/>
<circle cx="996.80" cy="532.90" r="4.3" fill="#a09fd4"/>
<path d="M990.75,542.70 Q990.75,537.70 995.75,537.70 L997.85,537.70 Q1002.85,537.70 1002.85,542.70 L1002.85,547.40 Q1002.85,549.30 1000.30,549.80 L999.70,558.20 Q999.70,559.60 998.30,559.60 L995.30,559.60 Q993.90,559.60 993.90,558.20 L993.30,549.80 Q990.75,549.30 990.75,547.40 Z" fill="#a09fd4"/>
<circle cx="1015.60" cy="532.90" r="4.3" fill="#a09fd4"/>
<path d="M1009.55,542.70 Q1009.55,537.70 1014.55,537.70 L1016.65,537.70 Q1021.65,537.70 1021.65,542.70 L1021.65,547.40 Q1021.65,549.30 1019.10,549.80 L1018.50,558.20 Q1018.50,559.60 1017.10,559.60 L1014.10,559.60 Q1012.70,559.60 1012.70,558.20 L1012.10,549.80 Q1009.55,549.30 1009.55,547.40 Z" fill="#a09fd4"/>
<circle cx="1034.40" cy="532.90" r="4.3" fill="#a09fd4"/>
<path d="M1028.35,542.70 Q1028.35,537.70 1033.35,537.70 L1035.45,537.70 Q1040.45,537.70 1040.45,542.70 L1040.45,547.40 Q1040.45,549.30 1037.90,549.80 L1037.30,558.20 Q1037.30,559.60 1035.90,559.60 L1032.90,559.60 Q1031.50,559.60 1031.50,558.20 L1030.90,549.80 Q1028.35,549.30 1028.35,547.40 Z" fill="#a09fd4"/>
<circle cx="1053.20" cy="532.90" r="4.3" fill="#a09fd4"/>
<path d="M1047.15,542.70 Q1047.15,537.70 1052.15,537.70 L1054.25,537.70 Q1059.25,537.70 1059.25,542.70 L1059.25,547.40 Q1059.25,549.30 1056.70,549.80 L1056.10,558.20 Q1056.10,559.60 1054.70,559.60 L1051.70,559.60 Q1050.30,559.60 1050.30,558.20 L1049.70,549.80 Q1047.15,549.30 1047.15,547.40 Z" fill="#a09fd4"/>
<circle cx="884.00" cy="569.70" r="4.3" fill="#a09fd4"/>
<path d="M877.95,579.50 Q877.95,574.50 882.95,574.50 L885.05,574.50 Q890.05,574.50 890.05,579.50 L890.05,584.20 Q890.05,586.10 887.50,586.60 L886.90,595.00 Q886.90,596.40 885.50,596.40 L882.50,596.40 Q881.10,596.40 881.10,595.00 L880.50,586.60 Q877.95,586.10 877.95,584.20 Z" fill="#a09fd4"/>
<circle cx="902.80" cy="569.70" r="4.3" fill="#a09fd4"/>
<path d="M896.75,579.50 Q896.75,574.50 901.75,574.50 L903.85,574.50 Q908.85,574.50 908.85,579.50 L908.85,584.20 Q908.85,586.10 906.30,586.60 L905.70,595.00 Q905.70,596.40 904.30,596.40 L901.30,596.40 Q899.90,596.40 899.90,595.00 L899.30,586.60 Q896.75,586.10 896.75,584.20 Z" fill="#a09fd4"/>
<circle cx="921.60" cy="569.70" r="4.3" fill="#a09fd4"/>
<path d="M915.55,579.50 Q915.55,574.50 920.55,574.50 L922.65,574.50 Q927.65,574.50 927.65,579.50 L927.65,584.20 Q927.65,586.10 925.10,586.60 L924.50,595.00 Q924.50,596.40 923.10,596.40 L920.10,596.40 Q918.70,596.40 918.70,595.00 L918.10,586.60 Q915.55,586.10 915.55,584.20 Z" fill="#a09fd4"/>
<circle cx="940.40" cy="569.70" r="4.3" fill="#a09fd4"/>
<path d="M934.35,579.50 Q934.35,574.50 939.35,574.50 L941.45,574.50 Q946.45,574.50 946.45,579.50 L946.45,584.20 Q946.45,586.10 943.90,586.60 L943.30,595.00 Q943.30,596.40 941.90,596.40 L938.90,596.40 Q937.50,596.40 937.50,595.00 L936.90,586.60 Q934.35,586.10 934.35,584.20 Z" fill="#a09fd4"/>
<circle cx="959.20" cy="569.70" r="4.3" fill="#a09fd4"/>
<path d="M953.15,579.50 Q953.15,574.50 958.15,574.50 L960.25,574.50 Q965.25,574.50 965.25,579.50 L965.25,584.20 Q965.25,586.10 962.70,586.60 L962.10,595.00 Q962.10,596.40 960.70,596.40 L957.70,596.40 Q956.30,596.40 956.30,595.00 L955.70,586.60 Q953.15,586.10 953.15,584.20 Z" fill="#a09fd4"/>
<circle cx="978.00" cy="569.70" r="4.3" fill="#a09fd4"/>
<path d="M971.95,579.50 Q971.95,574.50 976.95,574.50 L979.05,574.50 Q984.05,574.50 984.05,579.50 L984.05,584.20 Q984.05,586.10 981.50,586.60 L980.90,595.00 Q980.90,596.40 979.50,596.40 L976.50,596.40 Q975.10,596.40 975.10,595.00 L974.50,586.60 Q971.95,586.10 971.95,584.20 Z" fill="#a09fd4"/>
<circle cx="996.80" cy="569.70" r="4.3" fill="#a09fd4"/>
<path d="M990.75,579.50 Q990.75,574.50 995.75,574.50 L997.85,574.50 Q1002.85,574.50 1002.85,579.50 L1002.85,584.20 Q1002.85,586.10 1000.30,586.60 L999.70,595.00 Q999.70,596.40 998.30,596.40 L995.30,596.40 Q993.90,596.40 993.90,595.00 L993.30,586.60 Q990.75,586.10 990.75,584.20 Z" fill="#a09fd4"/>
<circle cx="1015.60" cy="569.70" r="4.3" fill="#a09fd4"/>
<path d="M1009.55,579.50 Q1009.55,574.50 1014.55,574.50 L1016.65,574.50 Q1021.65,574.50 1021.65,579.50 L1021.65,584.20 Q1021.65,586.10 1019.10,586.60 L1018.50,595.00 Q1018.50,596.40 1017.10,596.40 L1014.10,596.40 Q1012.70,596.40 1012.70,595.00 L1012.10,586.60 Q1009.55,586.10 1009.55,584.20 Z" fill="#a09fd4"/>
<circle cx="1034.40" cy="569.70" r="4.3" fill="#a09fd4"/>
<path d="M1028.35,579.50 Q1028.35,574.50 1033.35,574.50 L1035.45,574.50 Q1040.45,574.50 1040.45,579.50 L1040.45,584.20 Q1040.45,586.10 1037.90,586.60 L1037.30,595.00 Q1037.30,596.40 1035.90,596.40 L1032.90,596.40 Q1031.50,596.40 1031.50,595.00 L1030.90,586.60 Q1028.35,586.10 1028.35,584.20 Z" fill="#a09fd4"/>
<circle cx="1053.20" cy="569.70" r="4.3" fill="#a09fd4"/>
<path d="M1047.15,579.50 Q1047.15,574.50 1052.15,574.50 L1054.25,574.50 Q1059.25,574.50 1059.25,579.50 L1059.25,584.20 Q1059.25,586.10 1056.70,586.60 L1056.10,595.00 Q1056.10,596.40 1054.70,596.40 L1051.70,596.40 Q1050.30,596.40 1050.30,595.00 L1049.70,586.60 Q1047.15,586.10 1047.15,584.20 Z" fill="#a09fd4"/>
<circle cx="884.00" cy="606.50" r="4.3" fill="#a09fd4"/>
<path d="M877.95,616.30 Q877.95,611.30 882.95,611.30 L885.05,611.30 Q890.05,611.30 890.05,616.30 L890.05,621.00 Q890.05,622.90 887.50,623.40 L886.90,631.80 Q886.90,633.20 885.50,633.20 L882.50,633.20 Q881.10,633.20 881.10,631.80 L880.50,623.40 Q877.95,622.90 877.95,621.00 Z" fill="#a09fd4"/>
<circle cx="902.80" cy="606.50" r="4.3" fill="#a09fd4"/>
<path d="M896.75,616.30 Q896.75,611.30 901.75,611.30 L903.85,611.30 Q908.85,611.30 908.85,616.30 L908.85,621.00 Q908.85,622.90 906.30,623.40 L905.70,631.80 Q905.70,633.20 904.30,633.20 L901.30,633.20 Q899.90,633.20 899.90,631.80 L899.30,623.40 Q896.75,622.90 896.75,621.00 Z" fill="#a09fd4"/>
<circle cx="921.60" cy="606.50" r="4.3" fill="#a09fd4"/>
<path d="M915.55,616.30 Q915.55,611.30 920.55,611.30 L922.65,611.30 Q927.65,611.30 927.65,616.30 L927.65,621.00 Q927.65,622.90 925.10,623.40 L924.50,631.80 Q924.50,633.20 923.10,633.20 L920.10,633.20 Q918.70,633.20 918.70,631.80 L918.10,623.40 Q915.55,622.90 915.55,621.00 Z" fill="#a09fd4"/>
<circle cx="940.40" cy="606.50" r="4.3" fill="#a09fd4"/>
<path d="M934.35,616.30 Q934.35,611.30 939.35,611.30 L941.45,611.30 Q946.45,611.30 946.45,616.30 L946.45,621.00 Q946.45,622.90 943.90,623.40 L943.30,631.80 Q943.30,633.20 941.90,633.20 L938.90,633.20 Q937.50,633.20 937.50,631.80 L936.90,623.40 Q934.35,622.90 934.35,621.00 Z" fill="#a09fd4"/>
<circle cx="959.20" cy="606.50" r="4.3" fill="#a09fd4"/>
<path d="M953.15,616.30 Q953.15,611.30 958.15,611.30 L960.25,611.30 Q965.25,611.30 965.25,616.30 L965.25,621.00 Q965.25,622.90 962.70,623.40 L962.10,631.80 Q962.10,633.20 960.70,633.20 L957.70,633.20 Q956.30,633.20 956.30,631.80 L955.70,623.40 Q953.15,622.90 953.15,621.00 Z" fill="#a09fd4"/>
<circle cx="978.00" cy="606.50" r="4.3" fill="#a09fd4"/>
<path d="M971.95,616.30 Q971.95,611.30 976.95,611.30 L979.05,611.30 Q984.05,611.30 984.05,616.30 L984.05,621.00 Q984.05,622.90 981.50,623.40 L980.90,631.80 Q980.90,633.20 979.50,633.20 L976.50,633.20 Q975.10,633.20 975.10,631.80 L974.50,623.40 Q971.95,622.90 971.95,621.00 Z" fill="#a09fd4"/>
<circle cx="996.80" cy="606.50" r="4.3" fill="#a09fd4"/>
<path d="M990.75,616.30 Q990.75,611.30 995.75,611.30 L997.85,611.30 Q1002.85,611.30 1002.85,616.30 L1002.85,621.00 Q1002.85,622.90 1000.30,623.40 L999.70,631.80 Q999.70,633.20 998.30,633.20 L995.30,633.20 Q993.90,633.20 993.90,631.80 L993.30,623.40 Q990.75,622.90 990.75,621.00 Z" fill="#a09fd4"/>
<circle cx="1015.60" cy="606.50" r="4.3" fill="#a09fd4"/>
<path d="M1009.55,616.30 Q1009.55,611.30 1014.55,611.30 L1016.65,611.30 Q1021.65,611.30 1021.65,616.30 L1021.65,621.00 Q1021.65,622.90 1019.10,623.40 L1018.50,631.80 Q1018.50,633.20 1017.10,633.20 L1014.10,633.20 Q1012.70,633.20 1012.70,631.80 L1012.10,623.40 Q1009.55,622.90 1009.55,621.00 Z" fill="#a09fd4"/>
<circle cx="1034.40" cy="606.50" r="4.3" fill="#a09fd4"/>
<path d="M1028.35,616.30 Q1028.35,611.30 1033.35,611.30 L1035.45,611.30 Q1040.45,611.30 1040.45,616.30 L1040.45,621.00 Q1040.45,622.90 1037.90,623.40 L1037.30,631.80 Q1037.30,633.20 1035.90,633.20 L1032.90,633.20 Q1031.50,633.20 1031.50,631.80 L1030.90,623.40 Q1028.35,622.90 1028.35,621.00 Z" fill="#a09fd4"/>
<circle cx="1053.20" cy="606.50" r="4.3" fill="#a09fd4"/>
<path d="M1047.15,616.30 Q1047.15,611.30 1052.15,611.30 L1054.25,611.30 Q1059.25,611.30 1059.25,616.30 L1059.25,621.00 Q1059.25,622.90 1056.70,623.40 L1056.10,631.80 Q1056.10,633.20 1054.70,633.20 L1051.70,633.20 Q1050.30,633.20 1050.30,631.80 L1049.70,623.40 Q1047.15,622.90 1047.15,621.00 Z" fill="#a09fd4"/>
<rect x="461.80" y="9.60" width="92.00" height="27.70" fill="#4f6432"/>
<rect x="461.80" y="9.60" width="92.00" height="26.20" fill="#738749"/>
<rect x="461.80" y="9.60" width="10.2" height="26.20" fill="#9aad70"/>
<rect x="461.80" y="35.80" width="10.2" height="1.5" fill="#7c965a"/>
<rect x="501.20" y="9.60" width="23" height="27.70" fill="#c4b552"/>
<rect x="501.20" y="9.60" width="23" height="26.20" fill="#dbcd6e"/>
<rect x="502.50" y="9.60" width="2.6" height="26.20" fill="#c4b552"/>
<rect x="519.60" y="9.60" width="2.8" height="26.20" fill="#c4b552"/>
<path d="M477.80,17.10 L501.20,16.55 L501.20,17.65 Z" fill="#46572a"/>
<path d="M488.80,27.60 L501.20,27.05 L501.20,28.15 Z" fill="#46572a"/>
<path d="M550.80,22.10 L524.70,21.55 L524.70,22.65 Z" fill="#46572a"/>
<path d="M537.20,29.10 L524.70,28.55 L524.70,29.65 Z" fill="#46572a"/>
<rect x="468.00" y="37.20" width="92.00" height="27.70" fill="#4f6432"/>
<rect x="468.00" y="37.20" width="92.00" height="26.20" fill="#738749"/>
<rect x="468.00" y="37.20" width="10.2" height="26.20" fill="#9aad70"/>
<rect x="468.00" y="63.40" width="10.2" height="1.5" fill="#7c965a"/>
<rect x="507.40" y="37.20" width="23" height="27.70" fill="#c4b552"/>
<rect x="507.40" y="37.20" width="23" height="26.20" fill="#dbcd6e"/>
<rect x="508.70" y="37.20" width="2.6" height="26.20" fill="#c4b552"/>
<rect x="525.80" y="37.20" width="2.8" height="26.20" fill="#c4b552"/>
<path d="M470.00,43.80 L507.40,43.20 L507.40,44.40 Z" fill="#46572a"/>
<path d="M470.00,56.80 L507.40,56.20 L507.40,57.40 Z" fill="#46572a"/>
<path d="M557.00,49.80 L530.40,49.25 L530.40,50.35 Z" fill="#46572a"/>
<rect x="461.80" y="66.10" width="92.00" height="27.70" fill="#4f6432"/>
<rect x="461.80" y="66.10" width="92.00" height="26.20" fill="#738749"/>
<rect x="461.80" y="66.10" width="10.2" height="26.20" fill="#9aad70"/>
<rect x="461.80" y="92.30" width="10.2" height="1.5" fill="#7c965a"/>
<rect x="501.20" y="66.10" width="23" height="27.70" fill="#c4b552"/>
<rect x="501.20" y="66.10" width="23" height="26.20" fill="#dbcd6e"/>
<rect x="502.50" y="66.10" width="2.6" height="26.20" fill="#c4b552"/>
<rect x="519.60" y="66.10" width="2.8" height="26.20" fill="#c4b552"/>
<path d="M477.80,73.60 L501.20,73.05 L501.20,74.15 Z" fill="#46572a"/>
<path d="M488.80,84.10 L501.20,83.55 L501.20,84.65 Z" fill="#46572a"/>
<path d="M550.80,78.60 L524.70,78.05 L524.70,79.15 Z" fill="#46572a"/>
<path d="M537.20,85.60 L524.70,85.05 L524.70,86.15 Z" fill="#46572a"/>
<rect x="468.00" y="93.70" width="92.00" height="27.70" fill="#4f6432"/>
<rect x="468.00" y="93.70" width="92.00" height="26.20" fill="#738749"/>
<rect x="468.00" y="93.70" width="10.2" height="26.20" fill="#9aad70"/>
<rect x="468.00" y="119.90" width="10.2" height="1.5" fill="#7c965a"/>
<rect x="507.40" y="93.70" width="23" height="27.70" fill="#c4b552"/>
<rect x="507.40" y="93.70" width="23" height="26.20" fill="#dbcd6e"/>
<rect x="508.70" y="93.70" width="2.6" height="26.20" fill="#c4b552"/>
<rect x="525.80" y="93.70" width="2.8" height="26.20" fill="#c4b552"/>
<path d="M470.00,100.30 L507.40,99.70 L507.40,100.90 Z" fill="#46572a"/>
<path d="M470.00,113.30 L507.40,112.70 L507.40,113.90 Z" fill="#46572a"/>
<path d="M557.00,106.30 L530.40,105.75 L530.40,106.85 Z" fill="#46572a"/>
<rect x="461.80" y="122.60" width="92.00" height="27.70" fill="#4f6432"/>
<rect x="461.80" y="122.60" width="92.00" height="26.20" fill="#738749"/>
<rect x="461.80" y="122.60" width="10.2" height="26.20" fill="#9aad70"/>
<rect x="461.80" y="148.80" width="10.2" height="1.5" fill="#7c965a"/>
<rect x="501.20" y="122.60" width="23" height="27.70" fill="#c4b552"/>
<rect x="501.20" y="122.60" width="23" height="26.20" fill="#dbcd6e"/>
<rect x="502.50" y="122.60" width="2.6" height="26.20" fill="#c4b552"/>
<rect x="519.60" y="122.60" width="2.8" height="26.20" fill="#c4b552"/>
<path d="M477.80,130.10 L501.20,129.55 L501.20,130.65 Z" fill="#46572a"/>
<path d="M488.80,140.60 L501.20,140.05 L501.20,141.15 Z" fill="#46572a"/>
<path d="M550.80,135.10 L524.70,134.55 L524.70,135.65 Z" fill="#46572a"/>
<path d="M537.20,142.10 L524.70,141.55 L524.70,142.65 Z" fill="#46572a"/>
<rect x="468.00" y="150.20" width="92.00" height="27.70" fill="#4f6432"/>
<rect x="468.00" y="150.20" width="92.00" height="26.20" fill="#738749"/>
<rect x="468.00" y="150.20" width="10.2" height="26.20" fill="#9aad70"/>
<rect x="468.00" y="176.40" width="10.2" height="1.5" fill="#7c965a"/>
<rect x="507.40" y="150.20" width="23" height="27.70" fill="#c4b552"/>
<rect x="507.40" y="150.20" width="23" height="26.20" fill="#dbcd6e"/>
<rect x="508.70" y="150.20" width="2.6" height="26.20" fill="#c4b552"/>
<rect x="525.80" y="150.20" width="2.8" height="26.20" fill="#c4b552"/>
<path d="M470.00,156.80 L507.40,156.20 L507.40,157.40 Z" fill="#46572a"/>
<path d="M470.00,169.80 L507.40,169.20 L507.40,170.40 Z" fill="#46572a"/>
<path d="M557.00,162.80 L530.40,162.25 L530.40,163.35 Z" fill="#46572a"/>
<rect x="461.80" y="179.10" width="92.00" height="27.70" fill="#4f6432"/>
<rect x="461.80" y="179.10" width="92.00" height="26.20" fill="#738749"/>
<rect x="461.80" y="179.10" width="10.2" height="26.20" fill="#9aad70"/>
<rect x="461.80" y="205.30" width="10.2" height="1.5" fill="#7c965a"/>
<rect x="501.20" y="179.10" width="23" height="27.70" fill="#c4b552"/>
<rect x="501.20" y="179.10" width="23" height="26.20" fill="#dbcd6e"/>
<rect x="502.50" y="179.10" width="2.6" height="26.20" fill="#c4b552"/>
<rect x="519.60" y="179.10" width="2.8" height="26.20" fill="#c4b552"/>
<path d="M477.80,186.60 L501.20,186.05 L501.20,187.15 Z" fill="#46572a"/>
<path d="M488.80,197.10 L501.20,196.55 L501.20,197.65 Z" fill="#46572a"/>
<path d="M550.80,191.60 L524.70,191.05 L524.70,192.15 Z" fill="#46572a"/>
<path d="M537.20,198.60 L524.70,198.05 L524.70,199.15 Z" fill="#46572a"/>
<rect x="468.00" y="206.70" width="92.00" height="27.70" fill="#4f6432"/>
<rect x="468.00" y="206.70" width="92.00" height="26.20" fill="#738749"/>
<rect x="468.00" y="206.70" width="10.2" height="26.20" fill="#9aad70"/>
<rect x="468.00" y="232.90" width="10.2" height="1.5" fill="#7c965a"/>
<rect x="507.40" y="206.70" width="23" height="27.70" fill="#c4b552"/>
<rect x="507.40" y="206.70" width="23" height="26.20" fill="#dbcd6e"/>
<rect x="508.70" y="206.70" width="2.6" height="26.20" fill="#c4b552"/>
<rect x="525.80" y="206.70" width="2.8" height="26.20" fill="#c4b552"/>
<path d="M470.00,213.30 L507.40,212.70 L507.40,213.90 Z" fill="#46572a"/>
<path d="M470.00,226.30 L507.40,225.70 L507.40,226.90 Z" fill="#46572a"/>
<path d="M557.00,219.30 L530.40,218.75 L530.40,219.85 Z" fill="#46572a"/>
<rect x="461.80" y="235.60" width="92.00" height="27.70" fill="#4f6432"/>
<rect x="461.80" y="235.60" width="92.00" height="26.20" fill="#738749"/>
<rect x="461.80" y="235.60" width="10.2" height="26.20" fill="#9aad70"/>
<rect x="461.80" y="261.80" width="10.2" height="1.5" fill="#7c965a"/>
<rect x="501.20" y="235.60" width="23" height="27.70" fill="#c4b552"/>
<rect x="501.20" y="235.60" width="23" height="26.20" fill="#dbcd6e"/>
<rect x="502.50" y="235.60" width="2.6" height="26.20" fill="#c4b552"/>
<rect x="519.60" y="235.60" width="2.8" height="26.20" fill="#c4b552"/>
<path d="M477.80,243.10 L501.20,242.55 L501.20,243.65 Z" fill="#46572a"/>
<path d="M488.80,253.60 L501.20,253.05 L501.20,254.15 Z" fill="#46572a"/>
<path d="M550.80,248.10 L524.70,247.55 L524.70,248.65 Z" fill="#46572a"/>
<path d="M537.20,255.10 L524.70,254.55 L524.70,255.65 Z" fill="#46572a"/>
<rect x="468.00" y="263.20" width="92.00" height="27.70" fill="#4f6432"/>
<rect x="468.00" y="263.20" width="92.00" height="26.20" fill="#738749"/>
<rect x="468.00" y="263.20" width="10.2" height="26.20" fill="#9aad70"/>
<rect x="468.00" y="289.40" width="10.2" height="1.5" fill="#7c965a"/>
<rect x="507.40" y="263.20" width="23" height="27.70" fill="#c4b552"/>
<rect x="507.40" y="263.20" width="23" height="26.20" fill="#dbcd6e"/>
<rect x="508.70" y="263.20" width="2.6" height="26.20" fill="#c4b552"/>
<rect x="525.80" y="263.20" width="2.8" height="26.20" fill="#c4b552"/>
<path d="M470.00,269.80 L507.40,269.20 L507.40,270.40 Z" fill="#46572a"/>
<path d="M470.00,282.80 L507.40,282.20 L507.40,283.40 Z" fill="#46572a"/>
<path d="M557.00,275.80 L530.40,275.25 L530.40,276.35 Z" fill="#46572a"/>
<rect x="461.80" y="292.10" width="92.00" height="27.70" fill="#4f6432"/>
<rect x="461.80" y="292.10" width="92.00" height="26.20" fill="#738749"/>
<rect x="461.80" y="292.10" width="10.2" height="26.20" fill="#9aad70"/>
<rect x="461.80" y="318.30" width="10.2" height="1.5" fill="#7c965a"/>
<rect x="501.20" y="292.10" width="23" height="27.70" fill="#c4b552"/>
<rect x="501.20" y="292.10" width="23" height="26.20" fill="#dbcd6e"/>
<rect x="502.50" y="292.10" width="2.6" height="26.20" fill="#c4b552"/>
<rect x="519.60" y="292.10" width="2.8" height="26.20" fill="#c4b552"/>
<path d="M477.80,299.60 L501.20,299.05 L501.20,300.15 Z" fill="#46572a"/>
<path d="M488.80,310.10 L501.20,309.55 L501.20,310.65 Z" fill="#46572a"/>
<path d="M550.80,304.60 L524.70,304.05 L524.70,305.15 Z" fill="#46572a"/>
<path d="M537.20,311.60 L524.70,311.05 L524.70,312.15 Z" fill="#46572a"/>
<rect x="468.00" y="361.40" width="92.00" height="27.70" fill="#4f6432"/>
<rect x="468.00" y="361.40" width="92.00" height="26.20" fill="#738749"/>
<rect x="468.00" y="361.40" width="10.2" height="26.20" fill="#9aad70"/>
<rect x="468.00" y="387.60" width="10.2" height="1.5" fill="#7c965a"/>
<rect x="507.40" y="361.40" width="23" height="27.70" fill="#c4b552"/>
<rect x="507.40" y="361.40" width="23" height="26.20" fill="#dbcd6e"/>
<rect x="508.70" y="361.40" width="2.6" height="26.20" fill="#c4b552"/>
<rect x="525.80" y="361.40" width="2.8" height="26.20" fill="#c4b552"/>
<path d="M470.00,368.00 L507.40,367.40 L507.40,368.60 Z" fill="#46572a"/>
<path d="M470.00,381.00 L507.40,380.40 L507.40,381.60 Z" fill="#46572a"/>
<path d="M557.00,374.00 L530.40,373.45 L530.40,374.55 Z" fill="#46572a"/>
<rect x="468.00" y="417.60" width="92.00" height="27.70" fill="#4f6432"/>
<rect x="468.00" y="417.60" width="92.00" height="26.20" fill="#738749"/>
<rect x="468.00" y="417.60" width="10.2" height="26.20" fill="#9aad70"/>
<rect x="468.00" y="443.80" width="10.2" height="1.5" fill="#7c965a"/>
<rect x="507.40" y="417.60" width="23" height="27.70" fill="#c4b552"/>
<rect x="507.40" y="417.60" width="23" height="26.20" fill="#dbcd6e"/>
<rect x="508.70" y="417.60" width="2.6" height="26.20" fill="#c4b552"/>
<rect x="525.80" y="417.60" width="2.8" height="26.20" fill="#c4b552"/>
<path d="M470.00,424.20 L507.40,423.60 L507.40,424.80 Z" fill="#46572a"/>
<path d="M470.00,437.20 L507.40,436.60 L507.40,437.80 Z" fill="#46572a"/>
<path d="M557.00,430.20 L530.40,429.65 L530.40,430.75 Z" fill="#46572a"/>
<rect x="468.00" y="474.40" width="92.00" height="27.70" fill="#4f6432"/>
<rect x="468.00" y="474.40" width="92.00" height="26.20" fill="#738749"/>
<rect x="468.00" y="474.40" width="10.2" height="26.20" fill="#9aad70"/>
<rect x="468.00" y="500.60" width="10.2" height="1.5" fill="#7c965a"/>
<rect x="507.40" y="474.40" width="23" height="27.70" fill="#c4b552"/>
<rect x="507.40" y="474.40" width="23" height="26.20" fill="#dbcd6e"/>
<rect x="508.70" y="474.40" width="2.6" height="26.20" fill="#c4b552"/>
<rect x="525.80" y="474.40" width="2.8" height="26.20" fill="#c4b552"/>
<path d="M470.00,481.00 L507.40,480.40 L507.40,481.60 Z" fill="#46572a"/>
<path d="M470.00,494.00 L507.40,493.40 L507.40,494.60 Z" fill="#46572a"/>
<path d="M557.00,487.00 L530.40,486.45 L530.40,487.55 Z" fill="#46572a"/>
<rect x="468.00" y="530.60" width="92.00" height="27.70" fill="#4f6432"/>
<rect x="468.00" y="530.60" width="92.00" height="26.20" fill="#738749"/>
<rect x="468.00" y="530.60" width="10.2" height="26.20" fill="#9aad70"/>
<rect x="468.00" y="556.80" width="10.2" height="1.5" fill="#7c965a"/>
<rect x="507.40" y="530.60" width="23" height="27.70" fill="#c4b552"/>
<rect x="507.40" y="530.60" width="23" height="26.20" fill="#dbcd6e"/>
<rect x="508.70" y="530.60" width="2.6" height="26.20" fill="#c4b552"/>
<rect x="525.80" y="530.60" width="2.8" height="26.20" fill="#c4b552"/>
<path d="M470.00,537.20 L507.40,536.60 L507.40,537.80 Z" fill="#46572a"/>
<path d="M470.00,550.20 L507.40,549.60 L507.40,550.80 Z" fill="#46572a"/>
<path d="M557.00,543.20 L530.40,542.65 L530.40,543.75 Z" fill="#46572a"/>
<rect x="461.80" y="390.00" width="92.00" height="27.70" fill="#4f6432"/>
<rect x="461.80" y="390.00" width="92.00" height="26.20" fill="#738749"/>
<rect x="461.80" y="390.00" width="10.2" height="26.20" fill="#9aad70"/>
<rect x="461.80" y="416.20" width="10.2" height="1.5" fill="#7c965a"/>
<rect x="501.20" y="390.00" width="23" height="27.70" fill="#c4b552"/>
<rect x="501.20" y="390.00" width="23" height="26.20" fill="#dbcd6e"/>
<rect x="502.50" y="390.00" width="2.6" height="26.20" fill="#c4b552"/>
<rect x="519.60" y="390.00" width="2.8" height="26.20" fill="#c4b552"/>
<path d="M477.80,397.50 L501.20,396.95 L501.20,398.05 Z" fill="#46572a"/>
<path d="M488.80,408.00 L501.20,407.45 L501.20,408.55 Z" fill="#46572a"/>
<path d="M550.80,402.50 L524.70,401.95 L524.70,403.05 Z" fill="#46572a"/>
<path d="M537.20,409.50 L524.70,408.95 L524.70,410.05 Z" fill="#46572a"/>
<rect x="461.80" y="446.60" width="92.00" height="27.70" fill="#4f6432"/>
<rect x="461.80" y="446.60" width="92.00" height="26.20" fill="#738749"/>
<rect x="461.80" y="446.60" width="10.2" height="26.20" fill="#9aad70"/>
<rect x="461.80" y="472.80" width="10.2" height="1.5" fill="#7c965a"/>
<rect x="501.20" y="446.60" width="23" height="27.70" fill="#c4b552"/>
<rect x="501.20" y="446.60" width="23" height="26.20" fill="#dbcd6e"/>
<rect x="502.50" y="446.60" width="2.6" height="26.20" fill="#c4b552"/>
<rect x="519.60" y="446.60" width="2.8" height="26.20" fill="#c4b552"/>
<path d="M477.80,454.10 L501.20,453.55 L501.20,454.65 Z" fill="#46572a"/>
<path d="M488.80,464.60 L501.20,464.05 L501.20,465.15 Z" fill="#46572a"/>
<path d="M550.80,459.10 L524.70,458.55 L524.70,459.65 Z" fill="#46572a"/>
<path d="M537.20,466.10 L524.70,465.55 L524.70,466.65 Z" fill="#46572a"/>
<rect x="461.80" y="503.20" width="92.00" height="27.70" fill="#4f6432"/>
<rect x="461.80" y="503.20" width="92.00" height="26.20" fill="#738749"/>
<rect x="461.80" y="503.20" width="10.2" height="26.20" fill="#9aad70"/>
<rect x="461.80" y="529.40" width="10.2" height="1.5" fill="#7c965a"/>
<rect x="501.20" y="503.20" width="23" height="27.70" fill="#c4b552"/>
<rect x="501.20" y="503.20" width="23" height="26.20" fill="#dbcd6e"/>
<rect x="502.50" y="503.20" width="2.6" height="26.20" fill="#c4b552"/>
<rect x="519.60" y="503.20" width="2.8" height="26.20" fill="#c4b552"/>
<path d="M477.80,510.70 L501.20,510.15 L501.20,511.25 Z" fill="#46572a"/>
<path d="M488.80,521.20 L501.20,520.65 L501.20,521.75 Z" fill="#46572a"/>
<path d="M550.80,515.70 L524.70,515.15 L524.70,516.25 Z" fill="#46572a"/>
<path d="M537.20,522.70 L524.70,522.15 L524.70,523.25 Z" fill="#46572a"/>
<rect x="457.00" y="587.00" width="92.00" height="27.70" fill="#4f6432"/>
<rect x="457.00" y="587.00" width="92.00" height="26.20" fill="#738749"/>
<rect x="457.00" y="587.00" width="10.2" height="26.20" fill="#9aad70"/>
<rect x="457.00" y="613.20" width="10.2" height="1.5" fill="#7c965a"/>
<rect x="496.40" y="587.00" width="23" height="27.70" fill="#c4b552"/>
<rect x="496.40" y="587.00" width="23" height="26.20" fill="#dbcd6e"/>
<rect x="497.70" y="587.00" width="2.6" height="26.20" fill="#c4b552"/>
<rect x="514.80" y="587.00" width="2.8" height="26.20" fill="#c4b552"/>
<path d="M473.00,594.50 L496.40,593.95 L496.40,595.05 Z" fill="#46572a"/>
<path d="M484.00,605.00 L496.40,604.45 L496.40,605.55 Z" fill="#46572a"/>
<path d="M546.00,599.50 L519.90,598.95 L519.90,600.05 Z" fill="#46572a"/>
<path d="M532.40,606.50 L519.90,605.95 L519.90,607.05 Z" fill="#46572a"/>
<rect x="463.00" y="614.50" width="92.00" height="27.70" fill="#4f6432"/>
<rect x="463.00" y="614.50" width="92.00" height="26.20" fill="#738749"/>
<rect x="463.00" y="614.50" width="10.2" height="26.20" fill="#9aad70"/>
<rect x="463.00" y="640.70" width="10.2" height="1.5" fill="#7c965a"/>
<rect x="502.40" y="614.50" width="23" height="27.70" fill="#c4b552"/>
<rect x="502.40" y="614.50" width="23" height="26.20" fill="#dbcd6e"/>
<rect x="503.70" y="614.50" width="2.6" height="26.20" fill="#c4b552"/>
<rect x="520.80" y="614.50" width="2.8" height="26.20" fill="#c4b552"/>
<path d="M465.00,621.10 L502.40,620.50 L502.40,621.70 Z" fill="#46572a"/>
<path d="M465.00,634.10 L502.40,633.50 L502.40,634.70 Z" fill="#46572a"/>
<path d="M552.00,627.10 L525.40,626.55 L525.40,627.65 Z" fill="#46572a"/>
<rect x="645.80" y="31.30" width="100.20" height="5" rx="1.5" fill="#242d3a"/>
<path d="M645.50,33.30 V9.00 Q645.50,7.00 647.50,7.00 H744.00 Q746.00,7.00 746.00,9.00 V33.30 Z" fill="#ffb800"/>
<rect x="657.30" y="7.00" width="9.3" height="26.30" fill="#f5e4b6"/>
<path d="M734.40,7.00 H744.00 Q746.00,7.00 746.00,9.00 V33.30 H734.40 Z" fill="#f9c850"/>
<rect x="640.30" y="60.50" width="100.20" height="5" rx="1.5" fill="#242d3a"/>
<path d="M640.00,62.50 V38.20 Q640.00,36.20 642.00,36.20 H738.50 Q740.50,36.20 740.50,38.20 V62.50 Z" fill="#ffb800"/>
<rect x="651.80" y="36.20" width="9.3" height="26.30" fill="#f5e4b6"/>
<path d="M728.90,36.20 H738.50 Q740.50,36.20 740.50,38.20 V62.50 H728.90 Z" fill="#f9c850"/>
<rect x="698.70" y="36.20" width="0.8" height="26.30" fill="#e8a400"/>
<rect x="643.30" y="91.00" width="100.20" height="5" rx="1.5" fill="#242d3a"/>
<path d="M643.00,93.00 V68.50 Q643.00,66.50 645.00,66.50 H741.50 Q743.50,66.50 743.50,68.50 V93.00 Z" fill="#ffb800"/>
<rect x="654.80" y="66.50" width="9.3" height="26.50" fill="#f5e4b6"/>
<path d="M731.90,66.50 H741.50 Q743.50,66.50 743.50,68.50 V93.00 H731.90 Z" fill="#f9c850"/>
<rect x="637.30" y="120.00" width="100.20" height="5" rx="1.5" fill="#242d3a"/>
<path d="M637.00,122.00 V98.00 Q637.00,96.00 639.00,96.00 H735.50 Q737.50,96.00 737.50,98.00 V122.00 Z" fill="#ffb800"/>
<rect x="648.80" y="96.00" width="9.3" height="26.00" fill="#f5e4b6"/>
<path d="M725.90,96.00 H735.50 Q737.50,96.00 737.50,98.00 V122.00 H725.90 Z" fill="#f9c850"/>
<rect x="695.70" y="96.00" width="0.8" height="26.00" fill="#e8a400"/>
<rect x="641.00" y="149.00" width="100.20" height="5" rx="1.5" fill="#242d3a"/>
<path d="M640.70,151.00 V127.00 Q640.70,125.00 642.70,125.00 H739.20 Q741.20,125.00 741.20,127.00 V151.00 Z" fill="#ffb800"/>
<rect x="652.50" y="125.00" width="9.3" height="26.00" fill="#f5e4b6"/>
<path d="M729.60,125.00 H739.20 Q741.20,125.00 741.20,127.00 V151.00 H729.60 Z" fill="#f9c850"/>
<rect x="699.40" y="125.00" width="0.8" height="26.00" fill="#e8a400"/>
<rect x="642.80" y="177.50" width="100.20" height="5" rx="1.5" fill="#242d3a"/>
<path d="M642.50,179.50 V156.00 Q642.50,154.00 644.50,154.00 H741.00 Q743.00,154.00 743.00,156.00 V179.50 Z" fill="#ffb800"/>
<rect x="654.30" y="154.00" width="9.3" height="25.50" fill="#f5e4b6"/>
<path d="M731.40,154.00 H741.00 Q743.00,154.00 743.00,156.00 V179.50 H731.40 Z" fill="#f9c850"/>
<rect x="701.20" y="154.00" width="0.8" height="25.50" fill="#e8a400"/>
<rect x="645.80" y="206.50" width="100.20" height="5" rx="1.5" fill="#242d3a"/>
<path d="M645.50,208.50 V184.00 Q645.50,182.00 647.50,182.00 H744.00 Q746.00,182.00 746.00,184.00 V208.50 Z" fill="#ffb800"/>
<rect x="657.30" y="182.00" width="9.3" height="26.50" fill="#f5e4b6"/>
<path d="M734.40,182.00 H744.00 Q746.00,182.00 746.00,184.00 V208.50 H734.40 Z" fill="#f9c850"/>
<rect x="640.30" y="235.50" width="100.20" height="5" rx="1.5" fill="#242d3a"/>
<path d="M640.00,237.50 V213.00 Q640.00,211.00 642.00,211.00 H738.50 Q740.50,211.00 740.50,213.00 V237.50 Z" fill="#ffb800"/>
<rect x="651.80" y="211.00" width="9.3" height="26.50" fill="#f5e4b6"/>
<path d="M728.90,211.00 H738.50 Q740.50,211.00 740.50,213.00 V237.50 H728.90 Z" fill="#f9c850"/>
<rect x="698.70" y="211.00" width="0.8" height="26.50" fill="#e8a400"/>
<rect x="643.30" y="266.00" width="100.20" height="5" rx="1.5" fill="#242d3a"/>
<path d="M643.00,268.00 V243.50 Q643.00,241.50 645.00,241.50 H741.50 Q743.50,241.50 743.50,243.50 V268.00 Z" fill="#ffb800"/>
<rect x="654.80" y="241.50" width="9.3" height="26.50" fill="#f5e4b6"/>
<path d="M731.90,241.50 H741.50 Q743.50,241.50 743.50,243.50 V268.00 H731.90 Z" fill="#f9c850"/>
<rect x="637.30" y="295.00" width="100.20" height="5" rx="1.5" fill="#242d3a"/>
<path d="M637.00,297.00 V272.50 Q637.00,270.50 639.00,270.50 H735.50 Q737.50,270.50 737.50,272.50 V297.00 Z" fill="#ffb800"/>
<rect x="648.80" y="270.50" width="9.3" height="26.50" fill="#f5e4b6"/>
<path d="M725.90,270.50 H735.50 Q737.50,270.50 737.50,272.50 V297.00 H725.90 Z" fill="#f9c850"/>
<rect x="695.70" y="270.50" width="0.8" height="26.50" fill="#e8a400"/>
<rect x="641.00" y="324.00" width="100.20" height="5" rx="1.5" fill="#242d3a"/>
<path d="M640.70,326.00 V301.50 Q640.70,299.50 642.70,299.50 H739.20 Q741.20,299.50 741.20,301.50 V326.00 Z" fill="#ffb800"/>
<rect x="652.50" y="299.50" width="9.3" height="26.50" fill="#f5e4b6"/>
<path d="M729.60,299.50 H739.20 Q741.20,299.50 741.20,301.50 V326.00 H729.60 Z" fill="#f9c850"/>
<rect x="699.40" y="299.50" width="0.8" height="26.50" fill="#e8a400"/>
<rect x="646.00" y="354.50" width="100.20" height="5" rx="1.5" fill="#242d3a"/>
<path d="M645.70,356.50 V332.00 Q645.70,330.00 647.70,330.00 H744.20 Q746.20,330.00 746.20,332.00 V356.50 Z" fill="#ffb800"/>
<rect x="657.50" y="330.00" width="9.3" height="26.50" fill="#f5e4b6"/>
<path d="M734.60,330.00 H744.20 Q746.20,330.00 746.20,332.00 V356.50 H734.60 Z" fill="#f9c850"/>
<rect x="640.30" y="386.50" width="100.20" height="5" rx="1.5" fill="#242d3a"/>
<path d="M640.00,388.50 V362.50 Q640.00,360.50 642.00,360.50 H738.50 Q740.50,360.50 740.50,362.50 V388.50 Z" fill="#ffb800"/>
<rect x="651.80" y="360.50" width="9.3" height="28.00" fill="#f5e4b6"/>
<path d="M728.90,360.50 H738.50 Q740.50,360.50 740.50,362.50 V388.50 H728.90 Z" fill="#f9c850"/>
<rect x="698.70" y="360.50" width="0.8" height="28.00" fill="#e8a400"/>
<rect x="643.30" y="419.00" width="100.20" height="5" rx="1.5" fill="#242d3a"/>
<path d="M643.00,421.00 V394.50 Q643.00,392.50 645.00,392.50 H741.50 Q743.50,392.50 743.50,394.50 V421.00 Z" fill="#ffb800"/>
<rect x="654.80" y="392.50" width="9.3" height="28.50" fill="#f5e4b6"/>
<path d="M731.90,392.50 H741.50 Q743.50,392.50 743.50,394.50 V421.00 H731.90 Z" fill="#f9c850"/>
<rect x="637.30" y="449.00" width="100.20" height="5" rx="1.5" fill="#242d3a"/>
<path d="M637.00,451.00 V425.50 Q637.00,423.50 639.00,423.50 H735.50 Q737.50,423.50 737.50,425.50 V451.00 Z" fill="#ffb800"/>
<rect x="648.80" y="423.50" width="9.3" height="27.50" fill="#f5e4b6"/>
<path d="M725.90,423.50 H735.50 Q737.50,423.50 737.50,425.50 V451.00 H725.90 Z" fill="#f9c850"/>
<rect x="695.70" y="423.50" width="0.8" height="27.50" fill="#e8a400"/>
<rect x="642.80" y="502.00" width="100.20" height="5" rx="1.5" fill="#242d3a"/>
<path d="M642.50,504.00 V478.00 Q642.50,476.00 644.50,476.00 H741.00 Q743.00,476.00 743.00,478.00 V504.00 Z" fill="#ffb800"/>
<rect x="654.30" y="476.00" width="9.3" height="28.00" fill="#f5e4b6"/>
<path d="M731.40,476.00 H741.00 Q743.00,476.00 743.00,478.00 V504.00 H731.40 Z" fill="#f9c850"/>
<rect x="644.50" y="532.00" width="100.20" height="5" rx="1.5" fill="#242d3a"/>
<path d="M644.20,534.00 V509.00 Q644.20,507.00 646.20,507.00 H742.70 Q744.70,507.00 744.70,509.00 V534.00 Z" fill="#ffb800"/>
<rect x="656.00" y="507.00" width="9.3" height="27.00" fill="#f5e4b6"/>
<path d="M733.10,507.00 H742.70 Q744.70,507.00 744.70,509.00 V534.00 H733.10 Z" fill="#f9c850"/>
<rect x="647.90" y="562.50" width="100.20" height="5" rx="1.5" fill="#242d3a"/>
<path d="M647.60,564.50 V539.00 Q647.60,537.00 649.60,537.00 H746.10 Q748.10,537.00 748.10,539.00 V564.50 Z" fill="#ffb800"/>
<rect x="659.40" y="537.00" width="9.3" height="27.50" fill="#f5e4b6"/>
<path d="M736.50,537.00 H746.10 Q748.10,537.00 748.10,539.00 V564.50 H736.50 Z" fill="#f9c850"/>
<rect x="642.30" y="592.00" width="100.20" height="5" rx="1.5" fill="#242d3a"/>
<path d="M642.00,594.00 V568.50 Q642.00,566.50 644.00,566.50 H740.50 Q742.50,566.50 742.50,568.50 V594.00 Z" fill="#ffb800"/>
<rect x="653.80" y="566.50" width="9.3" height="27.50" fill="#f5e4b6"/>
<path d="M730.90,566.50 H740.50 Q742.50,566.50 742.50,568.50 V594.00 H730.90 Z" fill="#f9c850"/>
<rect x="642.30" y="650.00" width="99.70" height="5" rx="1.5" fill="#242d3a"/>
<path d="M642.00,652.00 V627.50 Q642.00,625.50 644.00,625.50 H740.00 Q742.00,625.50 742.00,627.50 V652.00 Z" fill="#ffb800"/>
<rect x="653.80" y="625.50" width="9.3" height="26.50" fill="#f5e4b6"/>
<path d="M730.40,625.50 H740.00 Q742.00,625.50 742.00,627.50 V652.00 H730.40 Z" fill="#f9c850"/>
<path d="M228.00,1.20 L483.00,1.20" fill="none" stroke="#b4b6b9" stroke-width="1.3"/>
<path d="M723.00,1.20 L975.00,1.20" fill="none" stroke="#b4b6b9" stroke-width="1.3"/>
<path d="M260.00,171.00 L374.50,171.00 L374.50,353.00 L480.70,353.00" fill="none" stroke="#b4b6b9" stroke-width="1.3"/>
<path d="M268.40,434.60 L374.60,434.60 L374.60,581.60 L489.00,581.60" fill="none" stroke="#b4b6b9" stroke-width="1.3"/>
<path d="M948.70,169.10 L817.00,169.10 L817.00,468.70 L723.00,468.70" fill="none" stroke="#b4b6b9" stroke-width="1.3"/>
<path d="M946.00,436.80 L829.20,436.80 L829.20,620.00 L718.00,620.00" fill="none" stroke="#b4b6b9" stroke-width="1.3"/>
<rect x="483.00" y="-13.00" width="53.50" height="27.00" fill="#fff" stroke="#2a2a2a" stroke-width="0.8"/>
<text x="510.05" y="10.00" text-anchor="middle" textLength="49.5" lengthAdjust="spacingAndGlyphs" class="pct">53%</text>
<rect x="480.70" y="339.70" width="56.30" height="26.80" fill="#fff" stroke="#2a2a2a" stroke-width="0.8"/>
<text x="509.05" y="361.00" text-anchor="middle" textLength="52" lengthAdjust="spacingAndGlyphs" class="pct">38%</text>
<rect x="489.00" y="571.00" width="40.50" height="26.70" fill="#fff" stroke="#2a2a2a" stroke-width="0.8"/>
<text x="508.75" y="592.00" text-anchor="middle" textLength="37.3" lengthAdjust="spacingAndGlyphs" class="pct">8%</text>
<rect x="669.40" y="-12.20" width="53.60" height="27.00" fill="#fff" stroke="#2a2a2a" stroke-width="0.8"/>
<text x="697.90" y="10.30" text-anchor="middle" textLength="48.2" lengthAdjust="spacingAndGlyphs" class="pct">75%</text>
<rect x="669.50" y="460.00" width="53.50" height="27.00" fill="#fff" stroke="#2a2a2a" stroke-width="0.8"/>
<text x="697.05" y="482.00" text-anchor="middle" textLength="49.8" lengthAdjust="spacingAndGlyphs" class="pct">23%</text>
<rect x="677.50" y="607.50" width="40.50" height="27.00" fill="#fff" stroke="#2a2a2a" stroke-width="0.8"/>
<text x="697.95" y="630.00" text-anchor="middle" textLength="36.2" lengthAdjust="spacingAndGlyphs" class="pct">2%</text>
<text x="144.50" y="6.20" text-anchor="start" textLength="73" lengthAdjust="spacingAndGlyphs" class="lbl">Top 10%</text>
<text x="143.80" y="179.00" text-anchor="start" textLength="109" lengthAdjust="spacingAndGlyphs" class="lbl">Middle 40%</text>
<text x="143.80" y="442.00" text-anchor="start" textLength="114" lengthAdjust="spacingAndGlyphs" class="lbl">Bottom 50%</text>
<text x="1057.60" y="6.20" text-anchor="end" textLength="74" lengthAdjust="spacingAndGlyphs" class="lbl">Top 10%</text>
<text x="1058.80" y="178.00" text-anchor="end" textLength="108.8" lengthAdjust="spacingAndGlyphs" class="lbl">Middle 40%</text>
<text x="1059.30" y="441.60" text-anchor="end" textLength="114.8" lengthAdjust="spacingAndGlyphs" class="lbl">Bottom 50%</text>
</svg>
</body></html>
